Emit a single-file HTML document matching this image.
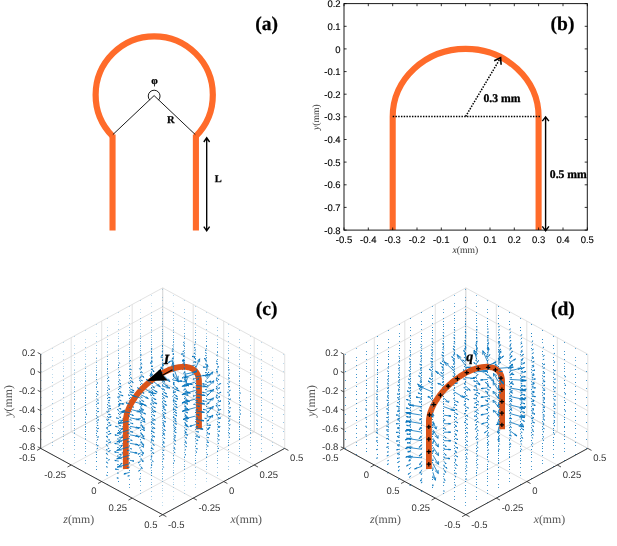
<!DOCTYPE html>
<html><head><meta charset="utf-8"><title>figure</title>
<style>html,body{margin:0;padding:0;background:#fff}body{width:617px;height:546px;overflow:hidden;font-family:"Liberation Sans",sans-serif}</style></head><body>
<svg width="617" height="546" viewBox="0 0 617 546" style="display:block">
<rect width="617" height="546" fill="#fff"/>
<g style="will-change:transform" text-rendering="geometricPrecision">
<g id="pa">
<path d="M112.55 136.1A58.6 58.6 0 1 1 195.9 136.1" fill="none" stroke="#FF6B2A" stroke-width="6.2"/>
<path d="M112.55 230.5L112.55 134.6M195.9 134.6L195.9 230.5" fill="none" stroke="#FF6B2A" stroke-width="6.1"/>
<path d="M112.85 134.6L154.1 95.6L195.3 134.6" fill="none" stroke="#000" stroke-width="0.9"/>
<path d="M149.8 100.1A5.9 5.9 0 1 1 158.5 100.1" fill="none" stroke="#000" stroke-width="0.9"/>
<path d="M206.7 138L206.7 230.6M203.79999999999998 142L206.7 137.8L209.6 142M203.79999999999998 226.6L206.7 230.8L209.6 226.6" fill="none" stroke="#000" stroke-width="1.35"/>
</g>
<g id="pb">
<clipPath id="cb"><rect x="344.0" y="3.6" width="243.29999999999995" height="226.5"/></clipPath>
<path clip-path="url(#cb)" d="M392.7 235.1L392.7 116.8A72.950 67.95 0 0 1 538.6 116.8L538.6 235.1" fill="none" stroke="#FF6B2A" stroke-width="6.1"/>
<rect x="344.0" y="3.6" width="243.3" height="226.5" fill="none" stroke="#1a1a1a" stroke-width="1"/>
<path d="M344 230.1v-2.6M344 3.6v2.6M344.0 3.6h2.6M587.3 3.6h-2.6M368.3 230.1v-2.6M368.3 3.6v2.6M344.0 26.3h2.6M587.3 26.3h-2.6M392.7 230.1v-2.6M392.7 3.6v2.6M344.0 48.9h2.6M587.3 48.9h-2.6M417 230.1v-2.6M417 3.6v2.6M344.0 71.6h2.6M587.3 71.6h-2.6M441.3 230.1v-2.6M441.3 3.6v2.6M344.0 94.2h2.6M587.3 94.2h-2.6M465.6 230.1v-2.6M465.6 3.6v2.6M344.0 116.8h2.6M587.3 116.8h-2.6M490 230.1v-2.6M490 3.6v2.6M344.0 139.5h2.6M587.3 139.5h-2.6M514.3 230.1v-2.6M514.3 3.6v2.6M344.0 162.1h2.6M587.3 162.1h-2.6M538.6 230.1v-2.6M538.6 3.6v2.6M344.0 184.8h2.6M587.3 184.8h-2.6M563 230.1v-2.6M563 3.6v2.6M344.0 207.4h2.6M587.3 207.4h-2.6M587.3 230.1v-2.6M587.3 3.6v2.6M344.0 230.1h2.6M587.3 230.1h-2.6" fill="none" stroke="#000" stroke-width="0.8"/>
<g font-family="Liberation Sans, sans-serif" font-size="9.6" fill="#000" stroke="#000" stroke-width="0.12">
<text transform="translate(344,242.8) scale(0.99,1)" text-anchor="middle">-0.5</text>
<text transform="translate(368.3,242.8) scale(0.99,1)" text-anchor="middle">-0.4</text>
<text transform="translate(392.7,242.8) scale(0.99,1)" text-anchor="middle">-0.3</text>
<text transform="translate(417,242.8) scale(0.99,1)" text-anchor="middle">-0.2</text>
<text transform="translate(441.3,242.8) scale(0.99,1)" text-anchor="middle">-0.1</text>
<text transform="translate(465.6,242.8) scale(0.99,1)" text-anchor="middle">0</text>
<text transform="translate(490,242.8) scale(0.99,1)" text-anchor="middle">0.1</text>
<text transform="translate(514.3,242.8) scale(0.99,1)" text-anchor="middle">0.2</text>
<text transform="translate(538.6,242.8) scale(0.99,1)" text-anchor="middle">0.3</text>
<text transform="translate(563,242.8) scale(0.99,1)" text-anchor="middle">0.4</text>
<text transform="translate(587.3,242.8) scale(0.99,1)" text-anchor="middle">0.5</text>
<text transform="translate(340.6,7.2) scale(0.99,1)" text-anchor="end">0.2</text>
<text transform="translate(340.6,29.9) scale(0.99,1)" text-anchor="end">0.1</text>
<text transform="translate(340.6,52.5) scale(0.99,1)" text-anchor="end">0</text>
<text transform="translate(340.6,75.2) scale(0.99,1)" text-anchor="end">-0.1</text>
<text transform="translate(340.6,97.8) scale(0.99,1)" text-anchor="end">-0.2</text>
<text transform="translate(340.6,120.4) scale(0.99,1)" text-anchor="end">-0.3</text>
<text transform="translate(340.6,143.1) scale(0.99,1)" text-anchor="end">-0.4</text>
<text transform="translate(340.6,165.7) scale(0.99,1)" text-anchor="end">-0.5</text>
<text transform="translate(340.6,188.4) scale(0.99,1)" text-anchor="end">-0.6</text>
<text transform="translate(340.6,211) scale(0.99,1)" text-anchor="end">-0.7</text>
<text transform="translate(340.6,233.7) scale(0.99,1)" text-anchor="end">-0.8</text>
</g>
<text x="465.3" y="253.4" text-anchor="middle" font-family="Liberation Serif, serif" font-size="9.6" fill="#333"><tspan font-style="italic">x</tspan>(mm)</text>
<text transform="translate(319.3,117.2) rotate(-90)" text-anchor="middle" font-family="Liberation Serif, serif" font-size="9.6" fill="#333"><tspan font-style="italic">y</tspan>(mm)</text>
<path d="M392.7 116.5L540.6 116.5" stroke="#000" stroke-width="1.5" stroke-dasharray="1.45 1.3" fill="none"/>
<path d="M465.6 116.5L500.6 57.8" stroke="#000" stroke-width="1.5" stroke-dasharray="1.5 1.3" fill="none"/>
<path d="M501.1 64.8L500.6 57.8L494.2 60.7" stroke="#000" stroke-width="1.6" fill="none"/>
<path d="M545.6 117L545.6 230.6M542.3000000000001 121.2L545.6 116.8L548.9 121.2M542.3000000000001 226.4L545.6 230.8L548.9 226.4" fill="none" stroke="#000" stroke-width="1.4"/>
</g>
<g id="pc">
<path d="M40.7 448.4L40.7 354.2M162.7 382.1L162.7 287.9M40.7 448.4L162.7 514.7M40.7 448.4L162.7 382.1M71.2 431.8L71.2 337.6M193.2 398.7L193.2 304.5M71.2 431.8L193.2 498.1M71.2 465L193.2 398.7M101.7 415.2L101.7 321.1M223.7 415.2L223.7 321.1M101.7 415.2L223.7 481.5M101.7 481.5L223.7 415.2M132.2 398.7L132.2 304.5M254.2 431.8L254.2 337.6M132.2 398.7L254.2 465M132.2 498.1L254.2 431.8M162.7 382.1L162.7 287.9M284.7 448.4L284.7 354.2M162.7 382.1L284.7 448.4M162.7 514.7L284.7 448.4M40.7 354.2L162.7 287.9M162.7 287.9L284.7 354.2M40.7 373L162.7 306.7M162.7 306.7L284.7 373M40.7 391.9L162.7 325.6M162.7 325.6L284.7 391.9M40.7 410.7L162.7 344.4M162.7 344.4L284.7 410.7M40.7 429.6L162.7 363.3M162.7 363.3L284.7 429.6M40.7 448.4L162.7 382.1M162.7 382.1L284.7 448.4" fill="none" stroke="#D6D6D6" stroke-width="0.7"/>
<path d="M41 448.5h1M52 454.5h1M41 439.5h1M41 431.5h1M41 405.5h1M41 397.5h1M41 388.5h1M52 394.5h1M63 400.5h1M41 380.5h1M52 386.5h1M63 392.5h1M74 398.5h1M85 404.5h1M41 371.5h1M52 377.5h1M63 383.5h1M74 389.5h1M85 395.5h1M41 363.5h1M52 369.5h1M63 375.5h1M74 381.5h1M85 387.5h1M41 354.5h1M52 360.5h1M63 366.5h1M74 372.5h1M85 378.5h1M96 384.5h1M52 374.5h1M52 365.5h1M63 371.5h1M74 377.5h1M85 383.5h1M96 389.5h1M52 357.5h1M63 363.5h1M74 369.5h1M85 375.5h1M96 381.5h1M52 348.5h1M63 354.5h1M74 360.5h1M85 366.5h1M96 372.5h1M63 359.5h1M74 365.5h1M107 383.5h1M63 351.5h1M74 357.5h1M85 363.5h1M96 369.5h1M107 375.5h1M63 342.5h1M74 348.5h1M85 354.5h1M96 360.5h1M107 366.5h1M74 345.5h1M85 351.5h1M96 357.5h1M107 363.5h1M118 369.5h1M74 336.5h1M85 342.5h1M96 348.5h1M107 354.5h1M118 360.5h1M85 339.5h1M85 330.5h1M96 336.5h1M107 342.5h1M118 348.5h1M96 333.5h1M96 324.5h1M107 330.5h1M118 336.5h1M107 327.5h1M107 318.5h1M118 324.5h1M118 321.5h1M118 312.5h1M129 318.5h1M129 400.5h1M129 315.5h1M129 306.5h1M140 312.5h1M140 394.5h1M140 386.5h1M140 309.5h1M140 300.5h1M151 306.5h1M151 388.5h1M162 394.5h1M151 380.5h1M151 312.5h1M151 303.5h1M162 309.5h1M151 295.5h1M162 300.5h1M173 306.5h1M162 382.5h1M173 388.5h1M162 374.5h1M162 365.5h1M162 314.5h1M162 306.5h1M162 297.5h1M173 303.5h1M162 289.5h1M173 295.5h1M184 300.5h1M195 306.5h1M206 312.5h1" fill="none" stroke="#0072BD" stroke-width="1.0" stroke-opacity="0.25"/>
<path d="M63 460.5h1M74 466.5h1M85 472.5h1M96 478.5h1M52 445.5h1M63 451.5h1M74 457.5h1M85 463.5h1M52 437.5h1M63 443.5h1M74 449.5h1M41 422.5h1M52 428.5h1M63 434.5h1M74 440.5h1M41 414.5h1M52 420.5h1M63 426.5h1M74 432.5h1M52 411.5h1M63 417.5h1M74 423.5h1M52 403.5h1M63 409.5h1M74 415.5h1M85 421.5h1M74 406.5h1M85 412.5h1M96 401.5h1M96 393.5h1M52 442.5h1M63 448.5h1M74 454.5h1M52 433.5h1M63 439.5h1M52 425.5h1M63 431.5h1M52 416.5h1M63 422.5h1M52 408.5h1M63 414.5h1M52 399.5h1M63 405.5h1M52 391.5h1M63 397.5h1M52 382.5h1M63 388.5h1M74 394.5h1M63 380.5h1M74 386.5h1M85 392.5h1M96 398.5h1M107 387.5h1M107 378.5h1M63 436.5h1M74 442.5h1M63 427.5h1M63 419.5h1M63 410.5h1M63 402.5h1M63 393.5h1M63 385.5h1M63 376.5h1M74 382.5h1M63 368.5h1M74 374.5h1M85 371.5h1M96 377.5h1M118 372.5h1M74 430.5h1M85 436.5h1M74 421.5h1M74 413.5h1M74 379.5h1M74 370.5h1M74 362.5h1M74 353.5h1M85 359.5h1M96 365.5h1M118 377.5h1M129 366.5h1M85 424.5h1M85 416.5h1M85 407.5h1M85 364.5h1M85 356.5h1M85 347.5h1M96 353.5h1M96 345.5h1M107 351.5h1M118 357.5h1M129 363.5h1M129 354.5h1M96 418.5h1M107 424.5h1M96 410.5h1M96 401.5h1M96 350.5h1M96 341.5h1M107 347.5h1M107 339.5h1M118 345.5h1M129 342.5h1M140 348.5h1M107 412.5h1M118 418.5h1M107 404.5h1M107 395.5h1M107 387.5h1M107 352.5h1M107 344.5h1M107 335.5h1M118 341.5h1M118 333.5h1M129 339.5h1M129 330.5h1M140 336.5h1M151 342.5h1M118 406.5h1M129 412.5h1M140 418.5h1M118 398.5h1M129 404.5h1M118 389.5h1M118 381.5h1M118 372.5h1M118 364.5h1M118 355.5h1M118 346.5h1M118 338.5h1M118 329.5h1M129 335.5h1M129 327.5h1M140 333.5h1M140 324.5h1M151 330.5h1M162 336.5h1M140 406.5h1M151 412.5h1M129 392.5h1M140 398.5h1M129 383.5h1M140 389.5h1M129 375.5h1M129 366.5h1M129 358.5h1M129 349.5h1M129 341.5h1M129 332.5h1M129 323.5h1M140 329.5h1M140 321.5h1M151 327.5h1M151 318.5h1M162 324.5h1M173 330.5h1M151 400.5h1M162 406.5h1M151 392.5h1M140 377.5h1M151 383.5h1M140 369.5h1M151 375.5h1M140 360.5h1M151 366.5h1M140 352.5h1M140 343.5h1M140 335.5h1M151 341.5h1M140 326.5h1M151 332.5h1M140 318.5h1M151 323.5h1M151 315.5h1M162 321.5h1M173 327.5h1M162 312.5h1M173 318.5h1M184 324.5h1M195 330.5h1M173 400.5h1M162 386.5h1M173 392.5h1M151 371.5h1M162 377.5h1M151 363.5h1M162 369.5h1M151 354.5h1M162 360.5h1M151 346.5h1M162 352.5h1M151 337.5h1M162 343.5h1M151 329.5h1M162 335.5h1M151 320.5h1M162 326.5h1M162 318.5h1M173 323.5h1M173 315.5h1M184 321.5h1M195 327.5h1M206 333.5h1M184 312.5h1M195 318.5h1M206 324.5h1M184 394.5h1M195 400.5h1M173 380.5h1M184 386.5h1M173 371.5h1M184 377.5h1M162 357.5h1M173 363.5h1M162 348.5h1M173 354.5h1M162 340.5h1M173 346.5h1M162 331.5h1M173 337.5h1M162 323.5h1M173 329.5h1M184 335.5h1M173 320.5h1M184 326.5h1M173 312.5h1M184 318.5h1M195 323.5h1M206 329.5h1M217 335.5h1M184 309.5h1M195 315.5h1M206 321.5h1M217 327.5h1M217 318.5h1" fill="none" stroke="#0072BD" stroke-width="1.0" stroke-opacity="0.4"/>
<path d="M85 455.5h1M85 446.5h1M85 438.5h1M85 429.5h1M96 418.5h1M96 410.5h1M85 460.5h1M96 466.5h1M74 445.5h1M85 451.5h1M74 437.5h1M74 428.5h1M74 420.5h1M74 411.5h1M74 403.5h1M85 400.5h1M96 406.5h1M107 395.5h1M85 448.5h1M74 433.5h1M85 439.5h1M74 425.5h1M74 416.5h1M74 408.5h1M74 399.5h1M74 391.5h1M85 388.5h1M85 380.5h1M96 386.5h1M107 392.5h1M118 381.5h1M96 442.5h1M85 427.5h1M85 419.5h1M74 404.5h1M74 396.5h1M74 387.5h1M85 385.5h1M85 376.5h1M85 368.5h1M107 371.5h1M96 430.5h1M107 436.5h1M96 421.5h1M96 413.5h1M85 398.5h1M85 390.5h1M85 381.5h1M85 373.5h1M96 370.5h1M96 362.5h1M107 359.5h1M140 360.5h1M118 430.5h1M107 416.5h1M107 407.5h1M96 393.5h1M96 384.5h1M96 375.5h1M96 367.5h1M96 358.5h1M107 356.5h1M118 353.5h1M129 351.5h1M140 357.5h1M151 354.5h1M129 424.5h1M118 410.5h1M129 416.5h1M118 401.5h1M118 393.5h1M107 378.5h1M118 384.5h1M107 369.5h1M107 361.5h1M118 358.5h1M118 350.5h1M129 347.5h1M140 345.5h1M162 348.5h1M151 424.5h1M140 410.5h1M129 395.5h1M140 401.5h1M129 387.5h1M129 378.5h1M129 369.5h1M129 361.5h1M129 352.5h1M129 344.5h1M140 341.5h1M151 339.5h1M173 342.5h1M162 418.5h1M151 404.5h1M151 395.5h1M140 381.5h1M151 387.5h1M140 372.5h1M140 364.5h1M140 355.5h1M140 346.5h1M140 338.5h1M151 335.5h1M162 333.5h1M184 336.5h1M173 412.5h1M162 398.5h1M162 389.5h1M162 381.5h1M151 358.5h1M151 349.5h1M162 338.5h1M162 329.5h1M173 335.5h1M184 333.5h1M195 339.5h1M184 406.5h1M173 383.5h1M173 375.5h1M173 366.5h1M173 358.5h1M173 349.5h1M173 341.5h1M173 332.5h1M184 329.5h1M195 335.5h1M206 406.5h1M217 412.5h1M195 392.5h1M195 383.5h1M184 369.5h1M184 360.5h1M184 352.5h1M184 343.5h1M195 349.5h1M195 341.5h1M195 332.5h1M206 338.5h1M217 344.5h1" fill="none" stroke="#0072BD" stroke-width="1.0" stroke-opacity="0.6"/>
<path d="M96 469.5h1M96 461.5h1M96 444.5h1M96 435.5h1M96 427.5h1M107 472.5h1M96 457.5h1M85 443.5h1M85 434.5h1M85 426.5h1M85 417.5h1M85 409.5h1M96 415.5h1M107 404.5h1M96 454.5h1M85 431.5h1M85 422.5h1M85 405.5h1M85 397.5h1M118 389.5h1M96 433.5h1M85 410.5h1M85 402.5h1M85 393.5h1M96 374.5h1M129 375.5h1M107 427.5h1M96 404.5h1M96 396.5h1M96 387.5h1M96 379.5h1M107 368.5h1M118 365.5h1M129 436.5h1M118 421.5h1M118 413.5h1M107 398.5h1M107 390.5h1M107 381.5h1M107 373.5h1M107 364.5h1M140 430.5h1M129 407.5h1M129 398.5h1M118 375.5h1M118 367.5h1M129 356.5h1M151 351.5h1M151 416.5h1M140 393.5h1M140 384.5h1M140 350.5h1M162 345.5h1M162 410.5h1M151 378.5h1M151 369.5h1M151 361.5h1M151 352.5h1M151 344.5h1M162 341.5h1M173 339.5h1M173 404.5h1M162 372.5h1M162 364.5h1M162 355.5h1M162 346.5h1M195 412.5h1M184 398.5h1M184 346.5h1M184 338.5h1M206 341.5h1M206 398.5h1M195 375.5h1M195 366.5h1M195 358.5h1M206 346.5h1M217 352.5h1" fill="none" stroke="#0072BD" stroke-width="1.0" stroke-opacity="0.8"/>
<path d="M96.8 452.7L95.9 451.8M96.1 452.2L95.9 451.8L96.4 452.1M107.8 463.7L106.6 461.9M106.6 462.6L106.6 461.9L107.4 462.4M96.8 449.3L97.5 448M97.1 448.4L97.5 448L97.6 448.5M107.8 455.2L106.4 453.1M106.4 453.9L106.4 453.1L107.3 453.7M96.8 440.7L97.6 439.5M97.1 439.8L97.6 439.5L97.6 439.9M107.8 446.7L106.4 444.5M106.4 445.3L106.4 444.5L107.3 445.1M96.8 432.2L97.7 431M97.1 431.3L97.7 431L97.7 431.4M107.8 438.2L106.5 436M106.5 436.8L106.5 436L107.4 436.7M96.8 423.7L97.7 422.6M97.1 422.9L97.7 422.6L97.7 423M107.8 429.7L106.6 427.7M106.6 428.4L106.6 427.7L107.4 428.3M107.8 421.1L106.8 419.5M106.7 420.1L106.8 419.5L107.5 420M107.8 412.6L106.9 411.5M106.9 412L106.9 411.5L107.4 411.8M107.8 460.3L109.4 459.7M108.8 459.8L109.4 459.7L109 460M118.8 466.3L122 463.1M120.3 464L122 463.1L121.6 464.4M96.8 445.8L98.2 445.5M97.7 445.5L98.2 445.5L97.8 445.7M107.8 451.8L110.3 450.7M109.3 450.9L110.3 450.7L109.7 451.2M118.8 457.8L125.1 451M121.6 452.9L125.1 451L124.4 453.6M96.8 437.3L98.5 436.9M97.8 436.9L98.5 436.9L98 437.1M107.8 443.3L110.8 441.9M109.5 442.2L110.8 441.9L110.1 442.6M118.8 449.3L125.5 442.2M121.8 444.1L125.5 442.2L124.7 444.9M96.8 428.8L98.6 428.4M97.9 428.4L98.6 428.4L98.1 428.6M107.8 434.8L111 433.4M109.7 433.7L111 433.4L110.3 434.1M118.8 440.7L125.6 433.7M121.9 435.6L125.6 433.7L124.8 436.4M85.8 414.3L87 414.3M86.6 414.2L87 414.3L86.7 414.3M96.8 420.3L98.7 419.9M98 419.9L98.7 419.9L98.2 420.2M107.8 426.3L111.2 425M109.8 425.2L111.2 425L110.3 425.6M118.8 432.2L125.8 425.3M122.1 427.1L125.8 425.3L124.9 428M96.8 411.8L98.7 411.5M98 411.5L98.7 411.5L98.2 411.7M107.8 417.7L111.2 416.7M109.8 416.8L111.2 416.7L110.4 417.2M118.8 423.7L126.1 417.1M122.3 418.8L126.1 417.1L125 419.7M96.8 403.2L98.6 403.2M97.9 403.1L98.6 403.2L98.1 403.3M107.8 409.2L110.9 408.5M109.6 408.6L110.9 408.5L110.2 408.9M118.8 415.2L124.9 410.1M121.6 411.4L124.9 410.1L124.2 412.1M96.8 394.7L98.2 394.8M97.6 394.7L98.2 394.8L97.8 394.8M107.8 400.7L109.9 400.3M108.9 400.3L109.9 400.3L109.5 400.6M118.8 406.7L119.6 403.8M118.4 404.7L119.6 403.8L120.3 404.8M118.8 398.1L117.7 396.9M117.6 397.4L117.7 396.9L118.5 397.2M107.8 448.4L109.1 448.4M108.7 448.4L109.1 448.4L108.6 448.5M118.8 454.4L121 454.4M120.2 454.3L121 454.4L120.2 454.5M129.8 460.3L133.9 461.1M132.7 460.6L133.9 461.1L132.4 461.1M107.8 439.9L109.5 439.9M109 439.8L109.5 439.9L109 440M118.8 445.8L122.1 445.8M121 445.6L122.1 445.8L121.1 446M129.8 451.8L137.2 453.1M135 452.2L137.2 453.1L134.5 453.1M96.8 425.4L98.1 425.5M97.7 425.4L98.1 425.5L97.7 425.5M107.8 431.4L109.9 431.4M109.2 431.2L109.9 431.4L109.2 431.5M118.8 437.3L122.8 437.3M121.5 437.1L122.8 437.3L121.5 437.5M129.8 443.3L138.2 444.8M135.7 443.8L138.2 444.8L135.1 444.8M96.8 416.9L98.2 417M97.8 416.9L98.2 417L97.8 417M107.8 422.8L110.1 422.9M109.3 422.7L110.1 422.9L109.4 423M118.8 428.8L123.1 428.8M121.7 428.6L123.1 428.8L121.7 429.1M129.8 434.8L138.6 436.4M136 435.3L138.6 436.4L135.3 436.4M96.8 408.3L98.3 408.5M97.8 408.4L98.3 408.5L97.8 408.6M107.8 414.3L110.3 414.5M109.4 414.3L110.3 414.5L109.5 414.6M118.8 420.3L123.4 420.4M121.9 420.1L123.4 420.4L121.9 420.7M129.8 426.3L138.9 428M136.2 426.9L138.9 428L135.5 428M96.8 399.8L98.3 400.1M97.8 399.9L98.3 400.1L97.8 400.1M107.8 405.8L110.3 406.1M109.5 405.8L110.3 406.1L109.5 406.1M118.8 411.8L123.6 412.2M122 411.7L123.6 412.2L122 412.3M129.8 417.7L139.3 419.8M136.5 418.6L139.3 419.8L135.8 419.7M96.8 391.3L98.2 391.7M97.7 391.5L98.2 391.7L97.7 391.6M107.8 397.3L110.2 397.7M109.4 397.4L110.2 397.7L109.4 397.7M118.8 403.2L123.6 404M122 403.4L123.6 404L122 404M129.8 409.2L140.7 412M137.5 410.5L140.7 412L136.6 411.8M96.8 382.8L98 383.2M97.6 383L98 383.2L97.6 383.1M107.8 388.8L109.8 389.3M109.1 389L109.8 389.3L109.2 389.3M118.8 394.7L123.1 395.7M121.6 395.1L123.1 395.7L121.7 395.7M129.8 400.7L144.3 404.6M139.7 402.4L144.3 404.6L139.3 404.3M107.8 380.2L109.1 380.8M108.6 380.5L109.1 380.8L108.8 380.7M118.8 386.2L121.2 387M120.2 386.5L121.2 387L120.6 386.9M129.8 392.2L133.7 392.4M131.1 392L133.7 392.4L133.7 392.6M129.8 383.6L128.4 382.9M128.4 383.2L128.4 382.9L129.2 383.1M118.8 442.4L120 442.7M119.6 442.6L120 442.7L119.5 442.7M129.8 448.4L131.5 448.9M131 448.6L131.5 448.9L130.8 448.8M140.7 454.4L142.8 455.2M142.3 454.8L142.8 455.2L142 455M118.8 433.9L120.4 434.3M119.9 434.1L120.4 434.3L119.8 434.2M129.8 439.9L132.2 440.5M131.5 440.1L132.2 440.5L131.3 440.4M140.7 445.8L143.8 447M143 446.5L143.8 447L142.6 446.8M107.8 419.4L109 419.8M108.7 419.6L109 419.8L108.6 419.7M118.8 425.4L120.7 425.8M120.2 425.6L120.7 425.8L120 425.8M129.8 431.4L132.7 432.1M131.9 431.7L132.7 432.1L131.6 432M140.7 437.3L144.5 438.8M143.5 438.1L144.5 438.8L142.9 438.5M107.8 410.9L109.2 411.3M108.8 411.1L109.2 411.3L108.7 411.3M118.8 416.9L121 417.4M120.3 417.1L121 417.4L120.2 417.4M129.8 422.8L133.1 423.7M132.1 423.2L133.1 423.7L131.8 423.6M140.7 428.8L144.8 430.4M143.8 429.7L144.8 430.4L143.2 430.1M107.8 402.4L109.3 402.9M108.9 402.6L109.3 402.9L108.7 402.8M118.8 408.3L121.1 409M120.4 408.7L121.1 409L120.3 408.9M129.8 414.3L133.4 415.4M132.3 414.8L133.4 415.4L132 415.2M140.7 420.3L145.2 422.1M144.1 421.2L145.2 422.1L143.4 421.8M107.8 393.9L109.3 394.4M108.9 394.2L109.3 394.4L108.7 394.3M118.8 399.8L121.2 400.7M120.5 400.2L121.2 400.7L120.3 400.5M129.8 405.8L133.6 407.1M132.5 406.4L133.6 407.1L132.1 406.9M140.7 411.8L145.6 413.9M144.4 412.9L145.6 413.9L143.6 413.5M107.8 385.3L109.2 386M108.8 385.7L109.2 386L108.7 385.9M118.8 391.3L121.2 392.3M120.5 391.8L121.2 392.3L120.3 392.1M129.8 397.3L133.9 398.9M132.7 398.1L133.9 398.9L132.3 398.6M140.7 403.2L146.4 405.8M145 404.6L146.4 405.8L144.1 405.3M107.8 376.8L109 377.5M108.7 377.2L109 377.5L108.6 377.4M118.8 382.8L121 384M120.4 383.4L121 384L120.2 383.7M129.8 388.8L134.1 390.8M132.8 389.9L134.1 390.8L132.4 390.4M140.7 394.7L148.3 398.5M146.4 396.8L148.3 398.5L145.3 397.7M118.8 374.3L120.4 375.4M119.9 374.9L120.4 375.4L119.8 375.2M129.8 380.2L133.2 382.5M132.1 381.4L133.2 382.5L132 382M140.7 386.2L152.9 393.6M149.5 390.3L152.9 393.6L148.3 392.1M129.8 371.7L130.7 372.9M130.2 372.4L130.7 372.9L130.6 372.7M140.7 377.7L139.2 378.2M138.9 378.2L139.2 378.2L140.6 377.9M140.7 369.2L139.5 368.8M139.7 369L139.5 368.8L140.1 368.8M140.7 442.4L142.1 443.1M141.8 442.8L142.1 443.1L141.5 442.9M151.7 448.4L153.3 449.2M152.9 448.8L153.3 449.2L152.6 449M129.8 427.9L131.1 428.5M130.7 428.3L131.1 428.5L130.5 428.4M140.7 433.9L142.5 434.7M142.1 434.4L142.5 434.7L141.8 434.6M151.7 439.9L153.8 440.9M153.3 440.5L153.8 440.9L152.9 440.7M129.8 419.4L131.3 420.2M130.9 419.8L131.3 420.2L130.7 420M140.7 425.4L142.9 426.4M142.4 425.9L142.9 426.4L142 426.2M151.7 431.4L154.3 432.6M153.7 432.1L154.3 432.6L153.2 432.4M118.8 404.9L120 405.6M119.7 405.3L120 405.6L119.5 405.4M129.8 410.9L131.5 411.8M131.1 411.4L131.5 411.8L130.8 411.6M140.7 416.9L143.2 418M142.6 417.5L143.2 418L142.2 417.8M151.7 422.8L154.6 424.3M154 423.7L154.6 424.3L153.4 424M118.8 396.4L120.1 397.1M119.7 396.8L120.1 397.1L119.5 397M129.8 402.4L131.7 403.4M131.2 402.9L131.7 403.4L130.9 403.2M140.7 408.3L143.5 409.7M142.8 409.1L143.5 409.7L142.3 409.4M151.7 414.3L155 416M154.2 415.3L155 416L153.6 415.6M118.8 387.9L120.1 388.7M119.8 388.4L120.1 388.7L119.6 388.5M129.8 393.9L131.8 395.1M131.3 394.5L131.8 395.1L131 394.8M140.7 399.8L143.7 401.4M143 400.7L143.7 401.4L142.5 401.1M151.7 405.8L155.3 407.7M154.5 406.9L155.3 407.7L153.8 407.3M118.8 379.4L120.1 380.3M119.7 379.9L120.1 380.3L119.5 380.1M129.8 385.3L131.9 386.7M131.4 386.1L131.9 386.7L131 386.4M140.7 391.3L144 393.3M143.2 392.4L144 393.3L142.6 392.8M151.7 397.3L156 399.7M155 398.6L156 399.7L154.1 399.1M118.8 370.9L119.9 371.8M119.6 371.4L119.9 371.8L119.4 371.6M129.8 376.8L131.7 378.4M131.3 377.7L131.7 378.4L130.9 378M140.7 382.8L144.3 385.4M143.4 384.3L144.3 385.4L142.8 384.7M151.7 388.8L157.2 392.1M155.9 390.7L157.2 392.1L154.8 391.3M118.8 362.3L119.6 363.3M119.4 362.9L119.6 363.3L119.2 363M129.8 368.3L131.2 369.9M130.9 369.2L131.2 369.9L130.6 369.5M140.7 374.3L143.8 377.4M143.1 376.1L143.8 377.4L142.5 376.6M151.7 380.2L160.3 386.9M158.3 384.2L160.3 386.9L156.6 385.3M129.8 359.8L130.4 361M130.3 360.5L130.4 361L130.1 360.7M140.7 365.7L141.7 367.9M141.4 367L141.7 367.9L141.3 367.4M151.7 371.7L150.7 376.6M149.7 375.2L150.7 376.6L152.4 374.8M151.7 363.2L150 362.9M150.3 363.1L150 362.9L150.8 362.9M151.7 436.5L152.8 437.2M152.6 436.9L152.8 437.2L152.3 437M162.7 442.4L164.1 443.3M163.8 442.9L164.1 443.3L163.5 443.1M140.7 422L141.7 422.8M141.5 422.4L141.7 422.8L141.3 422.6M151.7 427.9L153.1 429M152.9 428.5L153.1 429L152.5 428.7M162.7 433.9L164.6 435.1M164.2 434.6L164.6 435.1L163.8 434.8M140.7 413.5L141.9 414.4M141.7 414L141.9 414.4L141.4 414.2M151.7 419.4L153.4 420.7M153.1 420.2L153.4 420.7L152.6 420.4M162.7 425.4L165 426.8M164.5 426.2L165 426.8L164 426.5M140.7 404.9L142.1 406M141.8 405.6L142.1 406L141.4 405.8M151.7 410.9L153.7 412.4M153.3 411.8L153.7 412.4L152.8 412M162.7 416.9L165.4 418.5M164.8 417.8L165.4 418.5L164.2 418.1M129.8 390.4L130.7 391.4M130.5 391L130.7 391.4L130.3 391.1M140.7 396.4L142.2 397.7M141.9 397.2L142.2 397.7L141.5 397.4M151.7 402.4L153.9 404M153.5 403.4L153.9 404L152.9 403.6M162.7 408.3L165.7 410.2M165 409.4L165.7 410.2L164.3 409.8M129.8 381.9L130.7 382.9M130.6 382.5L130.7 382.9L130.3 382.7M140.7 387.9L142.3 389.4M142 388.8L142.3 389.4L141.6 389M151.7 393.9L154.1 395.8M153.7 395L154.1 395.8L153 395.3M162.7 399.8L166 401.9M165.3 401L166 401.9L164.5 401.4M129.8 373.4L130.7 374.5M130.6 374.1L130.7 374.5L130.2 374.2M140.7 379.4L142.3 381M142.1 380.4L142.3 381L141.6 380.6M151.7 385.3L154.4 387.7M153.9 386.7L154.4 387.7L153.1 387.1M162.7 391.3L166.6 393.9M165.8 392.8L166.6 393.9L164.8 393.3M129.8 364.9L130.6 366M130.5 365.6L130.6 366L130.2 365.7M140.7 370.9L142.2 372.7M142 372L142.2 372.7L141.5 372.2M151.7 376.8L154.5 379.8M154 378.6L154.5 379.8L153.2 379M162.7 382.8L167.7 386.4M166.6 384.9L167.7 386.4L165.4 385.5M140.7 362.3L141.7 364.2M141.6 363.5L141.7 364.2L141.2 363.7M151.7 368.3L153.9 371.9M153.6 370.6L153.9 371.9L152.7 370.9M162.7 374.3L169.9 381.8M168.5 378.8L169.9 381.8L166.5 379.7M140.7 353.8L141 355.2M141.1 354.7L141 355.2L140.7 354.8M151.7 359.8L151.9 362.4M152.3 361.5L151.9 362.4L151.4 361.6M162.7 365.7L159.2 372M160 370.7L159.2 372L160.7 369.2M162.7 357.2L160.8 357.1M161.2 357.3L160.8 357.1L161.6 357M162.7 430.5L163.5 431.5M163.4 431.1L163.5 431.5L163 431.2M173.7 436.5L175.2 437.6M174.9 437.1L175.2 437.6L174.5 437.3M162.7 422L163.7 423.4M163.6 422.8L163.7 423.4L163.1 423M173.7 427.9L175.9 429.6M175.5 428.9L175.9 429.6L174.8 429.2M151.7 407.5L152.4 408.6M152.4 408.2L152.4 408.6L151.9 408.3M162.7 413.5L163.9 415.1M163.8 414.5L163.9 415.1L163.2 414.7M173.7 419.4L176.3 421.5M175.8 420.6L176.3 421.5L175 420.9M151.7 399L152.5 400.3M152.5 399.8L152.5 400.3L152 399.9M162.7 404.9L164.1 406.8M164 406.1L164.1 406.8L163.3 406.3M173.7 410.9L176.6 413.2M176.1 412.3L176.6 413.2L175.2 412.6M151.7 390.4L152.6 391.9M152.5 391.4L152.6 391.9L152 391.5M162.7 396.4L164.3 398.5M164.2 397.7L164.3 398.5L163.4 397.9M173.7 402.4L176.9 404.9M176.3 403.9L176.9 404.9L175.4 404.2M140.7 376L141.3 377.1M141.3 376.7L141.3 377.1L140.9 376.7M151.7 381.9L152.6 383.6M152.6 383L152.6 383.6L152.1 383.1M162.7 387.9L164.5 390.3M164.3 389.4L164.5 390.3L163.5 389.6M173.7 393.9L177.3 396.6M176.6 395.5L177.3 396.6L175.5 395.9M140.7 367.4L141.2 368.6M141.3 368.2L141.2 368.6L140.9 368.3M151.7 373.4L152.6 375.3M152.6 374.6L152.6 375.3L152 374.7M162.7 379.4L164.6 382.2M164.4 381.2L164.6 382.2L163.5 381.4M173.7 385.3L177.8 388.8M177.1 387.4L177.8 388.8L175.8 387.9M140.7 358.9L141.1 360.1M141.2 359.7L141.1 360.1L140.8 359.7M151.7 364.9L152.4 366.9M152.5 366.2L152.4 366.9L151.9 366.3M162.7 370.9L164.3 374.4M164.3 373.1L164.3 374.4L163.3 373.3M173.7 376.8L178.8 382M178 380L178.8 382L176.3 380.6M151.7 356.4L152 358.2M152.2 357.6L152 358.2L151.6 357.6M162.7 362.3L163.2 366.1M163.6 364.8L163.2 366.1L162.5 364.9M173.7 368.3L178 380M178.2 375.8L178 380L175 376.4M151.7 347.8L151.5 349.1M151.8 348.7L151.5 349.1L151.4 348.7M162.7 353.8L161.8 356M162.4 355.4L161.8 356L161.9 355.2M173.7 359.8L168.4 362.4M169.9 362L168.4 362.4L170.4 361M173.7 351.3L171.9 351.1M172.4 351.3L171.9 351.1L172.7 351M173.7 424.5L173.7 425.7M173.9 425.3L173.7 425.7L173.5 425.3M184.7 430.5L186.1 432.8M186.1 431.9L186.1 432.8L185.2 432.1M173.7 416L173.5 417.9M173.9 417.3L173.5 417.9L173.2 417.3M184.7 422L187 426M187 424.6L187 426L185.4 424.8M162.7 401.5L162.6 402.7M162.8 402.4L162.6 402.7L162.4 402.3M173.7 407.5L173.5 409.7M174 409L173.5 409.7L173.1 409M184.7 413.5L187.3 418.1M187.4 416.4L187.3 418.1L185.5 416.7M162.7 393L162.6 394.4M162.9 393.9L162.6 394.4L162.4 393.9M173.7 399L173.5 401.4M174.1 400.6L173.5 401.4L173.1 400.6M184.7 404.9L187.5 409.8M187.5 408L187.5 409.8L185.6 408.3M162.7 384.5L162.6 386M162.9 385.5L162.6 386L162.4 385.5M173.7 390.4L173.6 393.1M174.2 392.2L173.6 393.1L173.2 392.2M184.7 396.4L187.8 401.4M187.7 399.6L187.8 401.4L185.7 400M162.7 376L162.7 377.6M163 377.1L162.7 377.6L162.4 377.1M173.7 381.9L173.8 384.9M174.3 383.9L173.8 384.9L173.2 383.9M184.7 387.9L188.1 393.3M188 391.3L188.1 393.3L185.9 391.7M162.7 367.4L162.6 369.3M162.9 368.7L162.6 369.3L162.4 368.7M173.7 373.4L173.7 376.7M174.2 375.6L173.7 376.7L173.2 375.6M184.7 379.4L188.5 386.1M188.4 383.6L188.5 386.1L186 384.1M162.7 358.9L162.5 360.7M162.8 360.1L162.5 360.7L162.3 360.1M173.7 364.9L173.1 368.5M173.8 367.3L173.1 368.5L172.8 367.3M184.7 370.9L186.2 381.9M187.4 378.1L186.2 381.9L184 378.3M162.7 350.4L162.3 351.9M162.6 351.4L162.3 351.9L162.2 351.4M173.7 356.4L172.3 359.2M173.1 358.4L172.3 359.2L172.4 358.2M184.7 362.3L176.1 369.4M179.5 367.7L176.1 369.4L178.3 366.3M173.7 347.8L172.3 349.1M172.9 348.8L172.3 349.1L172.7 348.6M184.7 353.8L181.4 354.1M182.3 354.2L181.4 354.1L182.7 353.8M184.7 345.3L183.4 345.1M183.7 345.2L183.4 345.1L183.9 345.1M184.7 418.6L183.5 419.5M184 419.2L183.5 419.5L183.7 419.1M195.6 424.5L189.8 426.3M192.1 426.1L189.8 426.3L191.4 425.4M184.7 410L182.5 411.5M183.5 411.1L182.5 411.5L182.9 410.9M195.6 416L183.1 419.4M187.9 419L183.1 419.4L186.6 417.6M173.7 395.6L172.8 396.5M173.2 396.3L172.8 396.5L172.9 396.2M184.7 401.5L182.1 403.2M183.3 402.8L182.1 403.2L182.6 402.5M195.6 407.5L182.5 411.1M187.6 410.7L182.5 411.1L186.1 409.2M173.7 387L172.7 388.1M173.2 387.8L172.7 388.1L172.8 387.7M184.7 393L182 394.8M183.2 394.4L182 394.8L182.5 394.1M195.6 399L182.5 402.7M187.6 402.3L182.5 402.7L186.1 400.7M173.7 378.5L172.7 379.7M173.2 379.4L172.7 379.7L172.8 379.3M184.7 384.5L182.1 386.5M183.3 386L182.1 386.5L182.5 385.7M195.6 390.4L182.7 394.3M187.7 393.8L182.7 394.3L186.2 392.3M173.7 370L172.8 371.3M173.3 370.9L172.8 371.3L172.8 370.8M184.7 376L182.2 378.1M183.4 377.5L182.2 378.1L182.6 377.3M195.6 381.9L183.1 386.1M188 385.5L183.1 386.1L186.4 384M173.7 361.5L172.8 362.8M173.3 362.4L172.8 362.8L172.9 362.3M184.7 367.4L182.3 369.7M183.4 369.1L182.3 369.7L182.7 368.8M195.6 373.4L184.1 377.9M188.6 377.1L184.1 377.9L187.2 375.7M173.7 353L172.8 354.2M173.3 353.8L172.8 354.2L172.9 353.7M184.7 358.9L182.4 360.9M183.4 360.4L182.4 360.9L182.9 360.1M195.6 364.9L187.6 366.9M190.4 366.7L187.6 366.9L190.2 365.7M173.7 344.4L172.9 345.4M173.3 345.1L172.9 345.4L173 345M184.7 350.4L182.9 351.6M183.6 351.3L182.9 351.6L183.4 351.1M195.6 356.4L192 356.5M193 356.7L192 356.5L193.3 356.2M184.7 341.9L183.5 342.4M183.9 342.3L183.5 342.4L183.9 342.2M195.6 347.8L194 347.7M194.4 347.8L194 347.7L194.6 347.6M206.6 418.6L204.8 418.3M205.3 418.5L204.8 418.3L205.4 418.3M195.6 404.1L193.7 404.4M194.4 404.4L193.7 404.4L194.3 404.2M206.6 410L203.2 409.4M204.2 409.8L203.2 409.4L204.4 409.4M184.7 389.6L183.6 390.1M184 390L183.6 390.1L183.8 389.9M195.6 395.6L193.3 396M194.2 396L193.3 396L194 395.7M206.6 401.5L202.6 400.8M203.8 401.3L202.6 400.8L204.1 400.8M184.7 381.1L183.5 381.7M184 381.5L183.5 381.7L183.8 381.4M195.6 387L193.2 387.5M194.1 387.5L193.2 387.5L193.9 387.2M206.6 393L202.5 392.3M203.7 392.8L202.5 392.3L204 392.3M184.7 372.5L183.5 373.2M184 373.1L183.5 373.2L183.7 372.9M195.6 378.5L193.2 379.1M194.1 379L193.2 379.1L193.9 378.8M206.6 384.5L202.6 383.8M203.8 384.3L202.6 383.8L204 383.8M184.7 364L183.5 364.7M184 364.6L183.5 364.7L183.8 364.4M195.6 370L193.3 370.6M194.2 370.6L193.3 370.6L194 370.3M206.6 376L202.8 375.4M203.9 375.8L202.8 375.4L204.2 375.4M184.7 355.5L183.6 356.2M184 356.1L183.6 356.2L183.9 355.9M195.6 361.5L193.6 362.2M194.3 362.1L193.6 362.2L194.2 361.8M206.6 367.4L203.3 367.1M204.3 367.4L203.3 367.1L204.5 367M195.6 353L193.9 353.5M194.6 353.4L193.9 353.5L194.5 353.2M206.6 358.9L204.2 358.6M204.9 358.9L204.2 358.6L205.1 358.6M195.6 344.4L194.4 344.8M194.8 344.8L194.4 344.8L194.8 344.6M206.6 350.4L205.1 350.2M205.5 350.3L205.1 350.2L205.7 350.1M217.6 404.1L216.4 403.7M216.7 403.9L216.4 403.7L216.9 403.8M206.6 389.6L205.3 389.6M205.7 389.7L205.3 389.6L205.7 389.5M217.6 395.6L216.1 395.1M216.5 395.4L216.1 395.1L216.7 395.2M206.6 381.1L205.2 381.1M205.7 381.2L205.2 381.1L205.7 381M217.6 387L216 386.6M216.4 386.8L216 386.6L216.6 386.6M206.6 372.5L205.2 372.6M205.7 372.7L205.2 372.6L205.7 372.5M217.6 378.5L216 378.1M216.4 378.3L216 378.1L216.6 378.1M206.6 364L205.3 364.1M205.7 364.2L205.3 364.1L205.7 364M217.6 370L216.1 369.6M216.5 369.8L216.1 369.6L216.7 369.6M206.6 355.5L205.4 355.6M205.8 355.7L205.4 355.6L205.8 355.5M217.6 361.5L216.3 361.1M216.6 361.3L216.3 361.1L216.8 361.2" fill="none" stroke="#0072BD" stroke-width="0.8" stroke-linejoin="round"/>
<path d="M199 429.2L199 427.3L199 426.2L199 425L199 423.8L199 422.6L199 421.4L199 420.3L199 419.1L199 417.9L199 416.7L199 415.6L199 414.4L199 413.2L199 412L199 410.8L199 409.7L199 408.5L199 407.3L199 406.1L199 405L199 403.8L199 402.6L199 401.4L199 400.2L199 399.1L199 397.9L199 396.7L199 395.5L199 394.4L199 393.2L199 392L199 390.8L199 389.7L199 388.5L199 387.3L199 386.1L199 384.9L199 383.8L199 382.6L199 381.4L198.9 379.3L198.5 377.2L198 375.4L197.2 373.7L196.2 372.1L195 370.7L193.6 369.6L192 368.6L190.2 367.8L188.3 367.3L186.2 366.9L183.9 366.7L181.5 366.8L179 367.1L176.4 367.6L173.7 368.3L170.9 369.2L168.1 370.3L165.3 371.6L162.4 373L159.5 374.7L156.7 376.5L153.9 378.5L151.1 380.6L148.4 382.8L145.8 385.2L143.3 387.6L140.9 390.1L138.6 392.7L136.5 395.4L134.6 398.1L132.8 400.8L131.2 403.5L129.8 406.2L128.6 408.9L127.6 411.5L126.8 414L126.3 416.5L125.9 418.9L125.8 421.2L125.8 422.4L125.8 423.5L125.8 424.7L125.8 425.9L125.8 427.1L125.8 428.3L125.8 429.4L125.8 430.6L125.8 431.8L125.8 433L125.8 434.1L125.8 435.3L125.8 436.5L125.8 437.7L125.8 438.9L125.8 440L125.8 441.2L125.8 442.4L125.8 443.6L125.8 444.7L125.8 445.9L125.8 447.1L125.8 448.3L125.8 449.4L125.8 450.6L125.8 451.8L125.8 453L125.8 454.2L125.8 455.3L125.8 456.5L125.8 457.7L125.8 458.9L125.8 460L125.8 461.2L125.8 462.4L125.8 463.6L125.8 464.8L125.8 465.9L125.8 467.1L125.8 469" fill="none" stroke="#D95319" stroke-width="5.8" stroke-linejoin="round"/>
<path d="M151 508.5h1M162 514.5h1M151 499.5h1M162 505.5h1M162 496.5h1M162 488.5h1M162 479.5h1M162 471.5h1M162 462.5h1M162 454.5h1M151 439.5h1M162 445.5h1M151 431.5h1M162 437.5h1M140 416.5h1M151 422.5h1M162 428.5h1M129 402.5h1M140 408.5h1M151 414.5h1M162 420.5h1M162 502.5h1M173 508.5h1M162 493.5h1M173 499.5h1M173 491.5h1M173 482.5h1M173 473.5h1M173 465.5h1M173 456.5h1M162 442.5h1M173 448.5h1M162 433.5h1M173 439.5h1M162 425.5h1M173 431.5h1M162 416.5h1M173 422.5h1M151 402.5h1M162 408.5h1M173 414.5h1M173 496.5h1M184 502.5h1M173 487.5h1M184 493.5h1M184 485.5h1M184 476.5h1M184 468.5h1M173 453.5h1M184 459.5h1M173 445.5h1M184 450.5h1M173 436.5h1M184 442.5h1M173 427.5h1M184 433.5h1M173 419.5h1M184 425.5h1M173 410.5h1M184 416.5h1M173 402.5h1M184 408.5h1M184 490.5h1M195 496.5h1M195 487.5h1M195 479.5h1M195 470.5h1M195 462.5h1M184 447.5h1M195 453.5h1M184 439.5h1M195 445.5h1M173 424.5h1M184 430.5h1M195 436.5h1M173 416.5h1M184 422.5h1M195 427.5h1M173 407.5h1M184 413.5h1M195 419.5h1M184 404.5h1M195 410.5h1M184 396.5h1M195 402.5h1M206 490.5h1M206 481.5h1M206 447.5h1M206 439.5h1M195 424.5h1M206 430.5h1M173 404.5h1M184 410.5h1M195 416.5h1M206 422.5h1M184 401.5h1M195 407.5h1M206 413.5h1M195 398.5h1M206 404.5h1M195 390.5h1M206 396.5h1M217 416.5h1M206 401.5h1M217 407.5h1M206 393.5h1M217 398.5h1M206 384.5h1M217 390.5h1M228 401.5h1M228 393.5h1M217 378.5h1M228 384.5h1M239 387.5h1M228 372.5h1M239 378.5h1M250 381.5h1M239 366.5h1M250 372.5h1M261 375.5h1M250 360.5h1M261 366.5h1M272 377.5h1M261 363.5h1M272 369.5h1M250 348.5h1M261 354.5h1M272 360.5h1M272 442.5h1M283 448.5h1M283 439.5h1M283 380.5h1M272 365.5h1M283 371.5h1M261 351.5h1M272 357.5h1M283 363.5h1M228 324.5h1M239 330.5h1M250 336.5h1M261 342.5h1M272 348.5h1M283 354.5h1" fill="none" stroke="#0072BD" stroke-width="1.0" stroke-opacity="0.25"/>
<path d="M129 496.5h1M140 502.5h1M140 493.5h1M140 485.5h1M151 491.5h1M140 476.5h1M151 482.5h1M140 468.5h1M151 473.5h1M140 459.5h1M151 465.5h1M140 450.5h1M151 456.5h1M140 442.5h1M151 448.5h1M140 433.5h1M129 419.5h1M140 425.5h1M107 398.5h1M118 404.5h1M129 410.5h1M107 390.5h1M118 396.5h1M151 496.5h1M151 487.5h1M162 485.5h1M162 476.5h1M162 468.5h1M162 459.5h1M151 445.5h1M162 450.5h1M151 436.5h1M151 427.5h1M151 419.5h1M140 404.5h1M151 410.5h1M118 384.5h1M129 390.5h1M140 396.5h1M162 490.5h1M162 481.5h1M173 479.5h1M173 470.5h1M173 462.5h1M162 447.5h1M162 439.5h1M162 430.5h1M162 422.5h1M162 413.5h1M151 398.5h1M162 404.5h1M129 378.5h1M140 384.5h1M151 390.5h1M162 396.5h1M173 484.5h1M173 475.5h1M184 481.5h1M173 467.5h1M184 473.5h1M184 464.5h1M184 456.5h1M173 441.5h1M173 433.5h1M162 418.5h1M162 410.5h1M173 398.5h1M162 384.5h1M173 390.5h1M184 478.5h1M195 484.5h1M195 475.5h1M195 467.5h1M206 473.5h1M195 458.5h1M206 464.5h1M195 450.5h1M206 456.5h1M195 441.5h1M195 433.5h1M184 418.5h1M162 398.5h1M173 395.5h1M184 393.5h1M173 378.5h1M184 384.5h1M206 478.5h1M217 484.5h1M206 469.5h1M217 475.5h1M217 467.5h1M217 458.5h1M217 450.5h1M217 441.5h1M206 427.5h1M217 433.5h1M206 418.5h1M217 424.5h1M195 404.5h1M206 410.5h1M195 395.5h1M195 387.5h1M184 372.5h1M195 378.5h1M217 472.5h1M228 478.5h1M228 469.5h1M228 461.5h1M228 452.5h1M228 444.5h1M228 435.5h1M228 427.5h1M228 418.5h1M217 404.5h1M228 410.5h1M217 395.5h1M206 381.5h1M217 387.5h1M195 366.5h1M206 372.5h1M228 466.5h1M239 472.5h1M239 463.5h1M239 455.5h1M239 446.5h1M239 421.5h1M239 412.5h1M239 404.5h1M228 389.5h1M239 395.5h1M217 375.5h1M228 381.5h1M206 360.5h1M217 366.5h1M239 460.5h1M250 466.5h1M250 457.5h1M250 449.5h1M250 440.5h1M250 415.5h1M250 406.5h1M250 398.5h1M239 383.5h1M250 389.5h1M228 369.5h1M239 375.5h1M217 354.5h1M228 360.5h1M250 454.5h1M261 460.5h1M261 451.5h1M261 443.5h1M261 434.5h1M261 426.5h1M261 417.5h1M261 409.5h1M261 400.5h1M250 386.5h1M261 392.5h1M250 377.5h1M261 383.5h1M228 357.5h1M239 363.5h1M250 369.5h1M206 336.5h1M217 342.5h1M228 348.5h1M239 354.5h1M250 442.5h1M261 448.5h1M272 454.5h1M261 439.5h1M272 445.5h1M261 431.5h1M272 437.5h1M272 428.5h1M272 420.5h1M272 411.5h1M272 403.5h1M261 388.5h1M272 394.5h1M261 380.5h1M272 386.5h1M239 359.5h1M250 365.5h1M261 371.5h1M217 339.5h1M228 345.5h1M239 351.5h1M250 357.5h1M217 330.5h1M228 336.5h1M239 342.5h1M228 418.5h1M239 424.5h1M250 430.5h1M261 436.5h1M250 421.5h1M261 427.5h1M272 433.5h1M261 419.5h1M272 425.5h1M283 431.5h1M261 410.5h1M272 416.5h1M283 422.5h1M261 402.5h1M272 408.5h1M283 414.5h1M261 393.5h1M272 399.5h1M283 405.5h1M261 385.5h1M272 391.5h1M283 397.5h1M261 376.5h1M272 382.5h1M283 388.5h1M239 356.5h1M250 362.5h1M261 368.5h1M272 374.5h1M228 341.5h1M239 347.5h1M250 353.5h1M261 359.5h1M228 333.5h1M239 339.5h1M250 345.5h1" fill="none" stroke="#0072BD" stroke-width="1.0" stroke-opacity="0.4"/>
<path d="M107 484.5h1M118 490.5h1M129 487.5h1M129 479.5h1M129 445.5h1M129 436.5h1M107 416.5h1M118 422.5h1M129 427.5h1M107 407.5h1M118 413.5h1M140 490.5h1M151 479.5h1M151 470.5h1M151 462.5h1M151 453.5h1M140 422.5h1M129 407.5h1M140 413.5h1M118 393.5h1M129 398.5h1M151 484.5h1M162 473.5h1M162 464.5h1M162 456.5h1M151 424.5h1M151 416.5h1M151 407.5h1M140 393.5h1M162 478.5h1M162 469.5h1M173 458.5h1M173 450.5h1M162 427.5h1M162 401.5h1M162 393.5h1M140 372.5h1M151 378.5h1M173 472.5h1M184 469.5h1M184 461.5h1M184 452.5h1M184 444.5h1M184 435.5h1M184 427.5h1M173 412.5h1M173 387.5h1M162 372.5h1M195 472.5h1M195 463.5h1M206 461.5h1M206 452.5h1M206 444.5h1M206 435.5h1M195 412.5h1M184 389.5h1M184 381.5h1M173 366.5h1M206 466.5h1M217 463.5h1M217 455.5h1M217 446.5h1M217 438.5h1M217 429.5h1M217 421.5h1M217 412.5h1M206 398.5h1M206 389.5h1M195 375.5h1M184 360.5h1M217 460.5h1M228 457.5h1M228 449.5h1M228 440.5h1M239 438.5h1M239 429.5h1M228 415.5h1M228 406.5h1M228 398.5h1M217 383.5h1M206 369.5h1M184 348.5h1M195 354.5h1M228 454.5h1M239 451.5h1M239 443.5h1M239 434.5h1M250 432.5h1M250 423.5h1M239 409.5h1M239 400.5h1M239 392.5h1M228 377.5h1M217 363.5h1M195 342.5h1M206 348.5h1M239 448.5h1M250 445.5h1M250 437.5h1M250 428.5h1M250 420.5h1M250 411.5h1M250 403.5h1M250 394.5h1M239 380.5h1M228 365.5h1M239 371.5h1M206 345.5h1M217 351.5h1M228 430.5h1M239 436.5h1M239 427.5h1M250 433.5h1M250 425.5h1M250 416.5h1M261 422.5h1M261 414.5h1M261 405.5h1M250 391.5h1M261 397.5h1M250 382.5h1M239 368.5h1M250 374.5h1M217 347.5h1M228 353.5h1M239 416.5h1M239 407.5h1M250 413.5h1M239 398.5h1M250 404.5h1M239 390.5h1M250 396.5h1M239 381.5h1M250 387.5h1M239 373.5h1M250 379.5h1M228 358.5h1M239 364.5h1M250 370.5h1M228 350.5h1" fill="none" stroke="#0072BD" stroke-width="1.0" stroke-opacity="0.6"/>
<path d="M118 481.5h1M129 470.5h1M129 462.5h1M129 453.5h1M107 424.5h1M118 430.5h1M129 484.5h1M140 481.5h1M140 473.5h1M140 439.5h1M140 430.5h1M118 401.5h1M151 475.5h1M151 433.5h1M129 387.5h1M151 472.5h1M162 461.5h1M162 452.5h1M162 444.5h1M162 435.5h1M151 412.5h1M151 387.5h1M173 463.5h1M173 455.5h1M173 421.5h1M151 366.5h1M184 466.5h1M184 457.5h1M195 455.5h1M195 446.5h1M195 438.5h1M195 429.5h1M195 421.5h1M184 398.5h1M162 360.5h1M195 460.5h1M206 457.5h1M206 449.5h1M206 406.5h1M195 383.5h1M173 354.5h1M217 451.5h1M228 432.5h1M228 423.5h1M217 392.5h1M228 445.5h1M239 426.5h1M239 417.5h1M228 386.5h1M217 371.5h1M206 357.5h1M228 442.5h1M239 439.5h1M239 431.5h1M239 422.5h1M239 397.5h1M239 388.5h1M217 359.5h1M217 424.5h1M239 419.5h1M250 408.5h1M250 399.5h1M239 385.5h1M239 376.5h1M228 362.5h1M228 410.5h1M228 401.5h1M228 375.5h1M228 367.5h1" fill="none" stroke="#0072BD" stroke-width="1.0" stroke-opacity="0.8"/>
<path d="M107.8 475.7L106.6 475.3M106.9 475.5L106.6 475.3L107.1 475.4M107.8 467.2L106.3 466.7M106.7 466.9L106.3 466.7L106.9 466.8M118.8 473.1L117.5 473.1M117.9 473.2L117.5 473.1L117.9 473M107.8 458.6L106.2 458.1M106.6 458.4L106.2 458.1L106.8 458.2M118.8 464.6L117.4 464.6M117.8 464.7L117.4 464.6L117.8 464.5M107.8 450.1L106.2 449.6M106.6 449.9L106.2 449.6L106.8 449.7M118.8 456.1L117.3 456M117.8 456.1L117.3 456L117.8 456M107.8 441.6L106.3 441.1M106.7 441.4L106.3 441.1L106.9 441.2M118.8 447.6L117.4 447.5M117.9 447.6L117.4 447.5L117.9 447.4M107.8 433.1L106.5 432.6M106.8 432.9L106.5 432.6L107 432.7M118.8 439L117.6 438.9M118 439L117.6 438.9L118 438.9M118.8 478.2L116.9 477.9M117.5 478.1L116.9 477.9L117.6 477.9M118.8 469.7L115.3 469.1M116.3 469.5L115.3 469.1L116.6 469.1M129.8 475.7L127.8 476M128.5 476L127.8 476L128.4 475.8M118.8 461.2L114.8 460.4M115.9 460.9L114.8 460.4L116.2 460.4M129.8 467.2L127.4 467.5M128.3 467.5L127.4 467.5L128.1 467.3M118.8 452.7L114.6 451.9M115.9 452.4L114.6 451.9L116.2 451.9M129.8 458.6L127.3 459M128.2 459L127.3 459L128 458.7M140.7 464.6L139.5 465M140 465L139.5 465L139.8 464.8M118.8 444.2L114.7 443.4M115.9 443.9L114.7 443.4L116.2 443.4M129.8 450.1L127.3 450.5M128.2 450.5L127.3 450.5L128 450.2M140.7 456.1L139.5 456.5M140 456.4L139.5 456.5L139.8 456.3M118.8 435.6L114.9 434.9M116.1 435.4L114.9 434.9L116.3 434.9M129.8 441.6L127.4 441.9M128.3 441.9L127.4 441.9L128.1 441.7M140.7 447.6L139.6 447.9M140.1 447.9L139.6 447.9L139.9 447.7M118.8 427.1L115.5 426.4M116.5 426.8L115.5 426.4L116.7 426.4M129.8 433.1L127.7 433.2M128.4 433.3L127.7 433.2L128.3 433M118.8 418.6L116.4 417.9M117.1 418.2L116.4 417.9L117.3 418M129.8 424.6L128.1 424.4M128.7 424.6L128.1 424.4L128.6 424.4M118.8 410.1L117.3 409.5M117.7 409.8L117.3 409.5L117.9 409.6M129.8 416L128.5 415.7M128.9 415.9L128.5 415.7L128.9 415.8M129.8 472.3L123.9 474M126.2 473.8L123.9 474L125.5 473.1M140.7 478.2L139.5 479.1M140.1 478.9L139.5 479.1L139.8 478.7M129.8 463.7L117.2 467.1M122 466.8L117.2 467.1L120.7 465.3M140.7 469.7L138.6 471.1M139.6 470.7L138.6 471.1L139 470.5M129.8 455.2L116.7 458.8M121.7 458.4L116.7 458.8L120.3 456.9M140.7 461.2L138.2 462.8M139.3 462.4L138.2 462.8L138.7 462.1M151.7 467.2L150.8 468M151.3 467.8L150.8 468L150.9 467.7M129.8 446.7L116.7 450.4M121.7 450L116.7 450.4L120.2 448.4M140.7 452.7L138.1 454.3M139.3 453.9L138.1 454.3L138.6 453.6M151.7 458.6L150.7 459.5M151.3 459.3L150.7 459.5L150.9 459.2M129.8 438.2L116.8 441.9M121.8 441.5L116.8 441.9L120.3 439.9M140.7 444.2L138.1 445.8M139.4 445.4L138.1 445.8L138.6 445.1M151.7 450.1L150.8 451M151.3 450.8L150.8 451L150.9 450.6M129.8 429.7L117.2 433.4M122.1 432.9L117.2 433.4L120.5 431.4M140.7 435.6L138.3 437.2M139.5 436.8L138.3 437.2L138.7 436.5M151.7 441.6L150.8 442.4M151.3 442.2L150.8 442.4L150.9 442.1M129.8 421.1L118.2 423.3M122.7 423.3L118.2 423.3L121.3 421.9M140.7 427.1L138.4 428.2M139.5 428L138.4 428.2L138.8 427.7M129.8 412.6L121.7 411.5M124.5 412.4L121.7 411.5L124.3 411.4M140.7 418.6L138.5 418.9M139.5 418.9L138.5 418.9L139 418.6M129.8 404.1L126.1 402.8M127.2 403.4L126.1 402.8L127.4 403M140.7 410.1L139 409.7M139.7 410L139 409.7L139.4 409.7M129.8 395.6L128.1 394.8M128.5 395.1L128.1 394.8L128.7 394.9M140.7 401.5L139.6 401.1M140 401.3L139.6 401.1L139.9 401.1M140.7 466.3L142.2 468.6M142.2 467.7L142.2 468.6L141.2 467.9M140.7 457.8L143.1 461.8M143.1 460.3L143.1 461.8L141.5 460.6M151.7 463.7L151.6 465.5M152 465L151.6 465.5L151.2 464.9M140.7 449.3L143.4 453.8M143.4 452.1L143.4 453.8L141.6 452.5M151.7 455.2L151.5 457.3M152 456.7L151.5 457.3L151.1 456.6M140.7 440.7L143.6 445.5M143.6 443.7L143.6 445.5L141.7 444.1M151.7 446.7L151.6 449M152.1 448.2L151.6 449L151.1 448.2M140.7 432.2L143.8 437.1M143.8 435.3L143.8 437.1L141.8 435.7M151.7 438.2L151.7 440.5M152.2 439.7L151.7 440.5L151.2 439.7M140.7 423.7L144.2 428.7M144.1 426.8L144.2 428.7L142 427.2M151.7 429.7L151.8 431.9M152.3 431.2L151.8 431.9L151.3 431.2M140.7 415.2L144.5 420.3M144.5 418.4L144.5 420.3L142.1 418.9M151.7 421.1L151.8 423.1M152.3 422.4L151.8 423.1L151.2 422.4M140.7 406.7L142.3 411.5M143.5 409.8L142.3 411.5L140.1 410M140.7 398.1L132.2 395.4M135.6 397L132.2 395.4L134.4 395.6M151.7 404.1L150.3 403.9M151.2 404.1L150.3 403.9L150.4 403.8M140.7 389.6L137.5 387.8M138.4 388.6L137.5 387.8L138.7 388.2M151.7 395.6L150.4 394.8M150.9 395.2L150.4 394.8L150.7 394.9M140.7 381.1L139.5 380.3M139.8 380.7L139.5 380.3L140 380.5M151.7 460.3L153.2 461.5M153 461L153.2 461.5L152.5 461.2M162.7 466.3L163.5 467.2M163.4 466.9L163.5 467.2L163 467M151.7 451.8L153.9 453.5M153.5 452.8L153.9 453.5L152.8 453.1M162.7 457.8L163.7 459.1M163.6 458.6L163.7 459.1L163.1 458.7M151.7 443.3L154.3 445.3M153.9 444.5L154.3 445.3L153.1 444.8M162.7 449.3L163.9 450.8M163.8 450.2L163.9 450.8L163.2 450.4M151.7 434.8L154.7 437M154.1 436.1L154.7 437L153.2 436.4M162.7 440.7L164.1 442.4M164 441.8L164.1 442.4L163.3 442M173.7 446.7L174.4 447.8M174.4 447.4L174.4 447.8L173.9 447.5M151.7 426.3L154.9 428.6M154.4 427.6L154.9 428.6L153.4 428M162.7 432.2L164.3 434M164.2 433.3L164.3 434L163.4 433.5M173.7 438.2L174.5 439.3M174.5 438.9L174.5 439.3L174 439M151.7 417.7L155.3 420.2M154.6 419.2L155.3 420.2L153.6 419.6M162.7 423.7L164.5 425.5M164.3 424.8L164.5 425.5L163.5 425M173.7 429.7L174.6 430.7M174.6 430.3L174.6 430.7L174 430.4M151.7 409.2L155.9 411.9M155.1 410.8L155.9 411.9L153.9 411.3M162.7 415.2L164.6 416.8M164.4 416.2L164.6 416.8L163.5 416.4M151.7 400.7L156.8 403.8M156 402.5L156.8 403.8L154.3 403.1M162.7 406.7L164.3 407.8M164.3 407.3L164.3 407.8L163.3 407.5M151.7 392.2L156.1 393.7M156.3 392.9L156.1 393.7L153 393.5M151.7 383.6L146.4 379.4M147.9 381.3L146.4 379.4L148.4 380.3M162.7 389.6L161.8 388.4M162.4 389L161.8 388.4L161.9 388.7M151.7 375.1L150 373.9M150.4 374.4L150 373.9L150.7 374.2M162.7 381.1L161.8 380.2M162.1 380.6L161.8 380.2L162.2 380.4M162.7 454.4L164.1 455.2M163.8 454.8L164.1 455.2L163.5 455M173.7 460.3L174.8 461M174.6 460.7L174.8 461L174.3 460.9M162.7 445.8L164.6 447M164.2 446.5L164.6 447L163.8 446.7M173.7 451.8L175.1 452.7M174.8 452.4L175.1 452.7L174.4 452.5M162.7 437.3L165 438.7M164.5 438.1L165 438.7L164 438.4M173.7 443.3L175.4 444.4M175.1 443.9L175.4 444.4L174.6 444.1M184.7 449.3L185.8 450M185.6 449.7L185.8 450L185.3 449.8M162.7 428.8L165.4 430.4M164.8 429.7L165.4 430.4L164.2 430M173.7 434.8L175.7 436M175.3 435.5L175.7 436L174.7 435.7M184.7 440.7L186 441.6M185.8 441.2L186 441.6L185.4 441.4M162.7 420.3L165.7 422M165 421.2L165.7 422L164.3 421.6M173.7 426.3L175.9 427.6M175.5 427L175.9 427.6L174.9 427.3M184.7 432.2L186.1 433.1M185.9 432.7L186.1 433.1L185.4 432.9M162.7 411.8L166 413.6M165.3 412.8L166 413.6L164.5 413.2M173.7 417.7L176.1 419.1M175.6 418.5L176.1 419.1L175 418.8M184.7 423.7L186.2 424.5M185.9 424.1L186.2 424.5L185.5 424.3M162.7 403.2L166.6 405.3M165.8 404.4L166.6 405.3L164.8 404.8M173.7 409.2L176.3 410.4M175.8 409.9L176.3 410.4L175.1 410.2M184.7 415.2L186.3 415.8M186 415.5L186.3 415.8L185.5 415.7M162.7 394.7L167.7 397M166.6 396L167.7 397L165.4 396.6M173.7 400.7L176.4 401.5M176 401.1L176.4 401.5L175.1 401.4M184.7 406.7L186.1 406.9M185.9 406.7L186.1 406.9L185.4 406.9M162.7 386.2L169.9 388M168.5 387L169.9 388L166.5 387.9M173.7 392.2L175.8 391.9M175.6 391.8L175.8 391.9L174.7 392.2M162.7 377.7L159.2 370.4M160 373.5L159.2 370.4L160.7 372M173.7 383.6L173.9 382.1M174.2 382.5L173.9 382.1L173.4 382.6M162.7 369.2L160.8 367.4M161.2 368.1L160.8 367.4L161.6 367.9M173.7 375.1L173 373.9M173.1 374.4L173 373.9L173.4 374.2M173.7 448.4L175.2 449.2M174.9 448.8L175.2 449.2L174.6 449M184.7 454.4L186 454.9M185.7 454.7L186 454.9L185.4 454.8M173.7 439.9L175.8 440.9M175.3 440.4L175.8 440.9L174.9 440.7M184.7 445.8L186.5 446.6M186 446.2L186.5 446.6L185.7 446.4M195.6 451.8L197 452.3M196.6 452.1L197 452.3L196.4 452.2M173.7 431.4L176.2 432.6M175.6 432L176.2 432.6L175.1 432.3M184.7 437.3L186.8 438.2M186.3 437.8L186.8 438.2L185.9 438M195.6 443.3L197.2 443.8M196.8 443.6L197.2 443.8L196.6 443.8M173.7 422.8L176.6 424.2M175.9 423.6L176.6 424.2L175.3 424M184.7 428.8L187.1 429.8M186.5 429.3L187.1 429.8L186.1 429.6M195.6 434.8L197.4 435.4M197 435.1L197.4 435.4L196.7 435.3M206.6 440.7L207.8 441.1M207.5 440.9L207.8 441.1L207.3 441M173.7 414.3L176.9 415.9M176.2 415.2L176.9 415.9L175.5 415.5M184.7 420.3L187.4 421.3M186.7 420.8L187.4 421.3L186.3 421.1M195.6 426.3L197.6 426.8M197.1 426.5L197.6 426.8L196.8 426.8M206.6 432.2L207.9 432.5M207.6 432.4L207.9 432.5L207.4 432.5M173.7 405.8L177.3 407.5M176.5 406.7L177.3 407.5L175.7 407.1M184.7 411.8L187.7 412.8M186.9 412.3L187.7 412.8L186.4 412.6M195.6 417.7L197.7 418.2M197.2 418L197.7 418.2L196.8 418.2M206.6 423.7L207.9 423.9M207.6 423.8L207.9 423.9L207.4 423.9M173.7 397.3L177.9 399.1M176.9 398.3L177.9 399.1L176.1 398.8M184.7 403.2L187.9 404.1M187.2 403.6L187.9 404.1L186.6 404M195.6 409.2L197.7 409.5M197.2 409.3L197.7 409.5L196.9 409.6M206.6 415.2L207.9 415.3M207.6 415.2L207.9 415.3L207.4 415.3M173.7 388.8L179.2 390.8M177.9 389.8L179.2 390.8L176.8 390.4M184.7 394.7L188.2 395.2M187.4 394.8L188.2 395.2L186.7 395.2M195.6 400.7L197.6 400.7M197.1 400.5L197.6 400.7L196.8 400.8M173.7 380.2L182.3 381.3M180.3 380.4L182.3 381.3L178.6 381.5M184.7 386.2L187.8 385.4M187.1 385.4L187.8 385.4L186.4 385.9M195.6 392.2L197.1 391.6M196.8 391.7L197.1 391.6L196.5 391.9M173.7 371.7L172.7 363M171.7 366.1L172.7 363L174.4 365.7M184.7 377.7L185.6 375.7M185.4 376.1L185.6 375.7L185.2 376.6M173.7 363.2L172 361.3M172.3 362.1L172 361.3L172.8 361.8M184.7 369.2L184.3 367.8M184.2 368.3L184.3 367.8L184.6 368.2M184.7 442.4L186.7 443.2M186.2 442.9L186.7 443.2L185.9 443.1M195.6 448.4L197.4 448.8M196.9 448.6L197.4 448.8L196.7 448.8M206.6 454.4L207.8 454.6M207.5 454.4L207.8 454.6L207.4 454.6M184.7 433.9L187.7 435.1M187 434.5L187.7 435.1L186.5 434.9M195.6 439.9L198.1 440.4M197.4 440.1L198.1 440.4L197.2 440.4M206.6 445.8L208.2 446.1M207.8 445.9L208.2 446.1L207.6 446.1M184.7 425.4L188.4 426.8M187.4 426.1L188.4 426.8L186.9 426.5M195.6 431.4L198.6 432M197.8 431.6L198.6 432L197.5 431.9M206.6 437.3L208.6 437.6M208 437.4L208.6 437.6L207.9 437.6M217.6 443.3L218.8 443.4M218.5 443.3L218.8 443.4L218.4 443.5M184.7 416.9L188.8 418.4M187.7 417.7L188.8 418.4L187.1 418.2M195.6 422.8L199 423.5M198 423.1L199 423.5L197.7 423.5M206.6 428.8L208.8 429.1M208.2 428.9L208.8 429.1L208 429.1M217.6 434.8L219 434.9M218.6 434.8L219 434.9L218.5 434.9M184.7 408.3L189.1 410M188 409.2L189.1 410L187.3 409.7M195.6 414.3L199.2 415M198.2 414.6L199.2 415L197.9 415M206.6 420.3L209 420.5M208.3 420.3L209 420.5L208.1 420.6M217.6 426.3L219.1 426.3M218.7 426.2L219.1 426.3L218.5 426.4M184.7 399.8L189.5 401.6M188.3 400.7L189.5 401.6L187.5 401.3M195.6 405.8L199.5 406.4M198.4 406L199.5 406.4L198 406.5M206.6 411.8L209.1 411.9M208.4 411.7L209.1 411.9L208.2 412M217.6 417.7L219.1 417.7M218.7 417.6L219.1 417.7L218.5 417.8M184.7 391.3L190.3 393.2M188.9 392.2L190.3 393.2L188 392.9M195.6 397.3L199.8 397.7M198.6 397.3L199.8 397.7L198.2 397.8M206.6 403.2L209.1 403.2M208.4 403.1L209.1 403.2L208.2 403.4M217.6 409.2L219 409.1M218.6 409L219 409.1L218.5 409.2M184.7 382.8L192.3 384.5M190.3 383.5L192.3 384.5L189.2 384.4M195.6 388.8L199.9 388.5M198.7 388.3L199.9 388.5L198.3 388.8M206.6 394.7L208.8 394.3M208.2 394.3L208.8 394.3L208 394.6M217.6 400.7L218.8 400.4M218.5 400.4L218.8 400.4L218.4 400.6M184.7 374.3L196.8 371.6M193.4 371.6L196.8 371.6L192.2 373.3M195.6 380.2L199 378.6M198 378.8L199 378.6L197.8 379.4M206.6 386.2L208.2 385.4M207.7 385.5L208.2 385.4L207.7 385.8M184.7 365.7L183.2 359.5M182.8 361.7L183.2 359.5L184.5 361.4M195.6 371.7L196.6 369.6M196 370.1L196.6 369.6L196.5 370.4M206.6 377.7L207.4 376.7M207.1 376.9L207.4 376.7L207.2 377.1M184.7 357.2L183.4 355.7M183.6 356.3L183.4 355.7L184 356.1M195.6 363.2L195.4 361.9M195.3 362.4L195.4 361.9L195.7 362.3M195.6 436.5L199.8 437.2M198.6 436.7L199.8 437.2L198.3 437.2M206.6 442.4L208.8 442.4M208.1 442.3L208.8 442.4L208.1 442.6M217.6 448.4L218.9 448.4M218.5 448.3L218.9 448.4L218.4 448.5M195.6 427.9L203.1 429.2M200.9 428.3L203.1 429.2L200.4 429.2M206.6 433.9L210 433.8M208.9 433.6L210 433.8L208.9 434M217.6 439.9L219.3 439.8M218.8 439.7L219.3 439.8L218.8 439.9M195.6 419.4L204 420.8M201.6 419.9L204 420.8L201 420.9M206.6 425.4L210.6 425.2M209.3 425L210.6 425.2L209.3 425.5M217.6 431.4L219.7 431.2M219 431.1L219.7 431.2L219 431.4M228.6 437.3L229.8 437.2M229.4 437.2L229.8 437.2L229.4 437.3M195.6 410.9L204.4 412.4M201.8 411.4L204.4 412.4L201.2 412.4M206.6 416.9L211 416.7M209.5 416.5L211 416.7L209.6 417M217.6 422.8L219.9 422.6M219.1 422.6L219.9 422.6L219.2 422.8M228.6 428.8L230 428.7M229.5 428.6L230 428.7L229.5 428.8M195.6 402.4L204.7 404M202.1 402.9L204.7 404L201.4 404M206.6 408.3L211.2 408.2M209.7 407.9L211.2 408.2L209.7 408.5M217.6 414.3L220.1 414.1M219.2 414L220.1 414.1L219.3 414.3M228.6 420.3L230.1 420.1M229.6 420.1L230.1 420.1L229.6 420.3M195.6 393.9L205.2 395.5M202.4 394.4L205.2 395.5L201.7 395.5M206.6 399.8L211.4 399.5M209.8 399.3L211.4 399.5L209.8 399.9M217.6 405.8L220.1 405.5M219.3 405.4L220.1 405.5L219.3 405.7M228.6 411.8L230.1 411.5M229.6 411.5L230.1 411.5L229.6 411.7M195.6 385.3L206.5 386.6M203.4 385.6L206.5 386.6L202.5 386.9M206.6 391.3L211.5 390.6M209.9 390.5L211.5 390.6L209.9 391.1M217.6 397.3L220 396.7M219.2 396.8L220 396.7L219.2 397.1M228.6 403.2L230 402.9M229.5 402.9L230 402.9L229.5 403.1M195.6 376.8L210.2 374.6M205.6 374.4L210.2 374.6L205.2 376.2M206.6 382.8L210.9 381.2M209.4 381.4L210.9 381.2L209.6 382M217.6 388.8L219.6 387.9M218.9 388.1L219.6 387.9L219 388.3M228.6 394.7L229.7 394.2M229.3 394.3L229.7 394.2L229.4 394.5M195.6 368.3L199.6 358.8M197 361.6L199.6 358.8L199.6 362.2M206.6 374.3L209 372M208 372.5L209 372L208.4 372.9M217.6 380.2L218.9 379.2M218.4 379.4L218.9 379.2L218.6 379.7M195.6 359.8L194.2 357M194.3 358L194.2 357L195.1 357.8M206.6 365.7L207.1 364M206.7 364.5L207.1 364L207.2 364.6M195.6 351.3L194.8 350.3M194.9 350.7L194.8 350.3L195.2 350.5M206.6 430.5L209.8 427.3M208.1 428.2L209.8 427.3L209.4 428.6M217.6 436.5L219.2 435.8M218.6 435.9L219.2 435.8L218.8 436.1M206.6 422L212.9 415.1M209.5 417L212.9 415.1L212.2 417.8M217.6 427.9L220.1 426.7M219.1 427L220.1 426.7L219.5 427.3M228.6 433.9L230 433.5M229.4 433.5L230 433.5L229.6 433.7M206.6 413.5L213.3 406.3M209.7 408.3L213.3 406.3L212.5 409.1M217.6 419.4L220.6 418M219.3 418.3L220.6 418L219.9 418.6M228.6 425.4L230.2 424.8M229.6 424.9L230.2 424.8L229.8 425.1M206.6 404.9L213.5 397.8M209.8 399.7L213.5 397.8L212.6 400.5M217.6 410.9L220.8 409.4M219.5 409.7L220.8 409.4L220.1 410.1M228.6 416.9L230.4 416.2M229.7 416.3L230.4 416.2L229.9 416.6M206.6 396.4L213.7 389.3M209.9 391.2L213.7 389.3L212.7 392.1M217.6 402.4L221 400.8M219.6 401.1L221 400.8L220.1 401.5M228.6 408.3L230.5 407.7M229.8 407.8L230.5 407.7L230 408M239.6 414.3L240.8 413.9M240.3 414L240.8 413.9L240.4 414.1M206.6 387.9L213.9 380.8M210.1 382.7L213.9 380.8L212.9 383.6M217.6 393.9L221 392.2M219.6 392.6L221 392.2L220.2 393M228.6 399.8L230.5 399.1M229.8 399.2L230.5 399.1L230 399.4M239.6 405.8L240.7 405.4M240.3 405.4L240.7 405.4L240.4 405.6M206.6 379.4L212.8 371.9M209.5 374L212.8 371.9L212 374.7M217.6 385.3L220.7 383.5M219.4 383.9L220.7 383.5L220 384.3M228.6 391.3L230.3 390.4M229.6 390.6L230.3 390.4L229.8 390.8M206.6 370.9L207.5 365M206.3 366.9L207.5 365L208.1 367M217.6 376.8L219.7 374.8M218.7 375.3L219.7 374.8L219.3 375.6M228.6 382.8L229.9 381.8M229.4 382L229.9 381.8L229.6 382.2M206.6 362.3L205.5 359.6M205.5 360.6L205.5 359.6L206.3 360.4M217.6 368.3L218.4 366.5M217.9 367.1L218.4 366.5L218.4 367.2M228.6 374.3L229.4 373.3M229 373.6L229.4 373.3L229.2 373.7M206.6 353.8L205.7 352.6M205.8 353.1L205.7 352.6L206.2 352.9M217.6 416L216.4 414.1M216.4 414.8L216.4 414.1L217.2 414.7M228.6 422L229.2 420.9M228.8 421.2L229.2 420.9L229.2 421.3M217.6 407.5L216.2 405.3M216.2 406.1L216.2 405.3L217.1 405.9M228.6 413.5L229.3 412.1M228.8 412.5L229.3 412.1L229.3 412.6M217.6 399L216.2 396.7M216.2 397.5L216.2 396.7L217.1 397.4M228.6 404.9L229.4 403.5M228.9 403.9L229.4 403.5L229.4 404M239.6 410.9L240.5 410.2M240.1 410.4L240.5 410.2L240.3 410.5M217.6 390.4L216.3 388.2M216.3 389L216.3 388.2L217.2 388.9M228.6 396.4L229.4 395M228.9 395.4L229.4 395L229.4 395.5M239.6 402.4L240.6 401.6M240.1 401.8L240.6 401.6L240.4 401.9M217.6 381.9L216.4 379.7M216.4 380.5L216.4 379.7L217.2 380.4M228.6 387.9L229.4 386.4M228.9 386.9L229.4 386.4L229.4 387M239.6 393.9L240.5 393M240.1 393.3L240.5 393L240.3 393.4M217.6 373.4L216.6 371.4M216.5 372.1L216.6 371.4L217.3 372M228.6 379.4L229.3 378M228.8 378.4L229.3 378L229.3 378.5M217.6 364.9L216.7 363.4M216.7 363.9L216.7 363.4L217.2 363.8M228.6 370.9L229 369.6M228.7 370L229 369.6L229 370M217.6 356.4L216.8 355.4M216.9 355.7L216.8 355.4L217.2 355.7M228.6 393L227.7 392.1M227.8 392.5L227.7 392.1L228.2 392.4M228.6 384.5L227.7 383.6M227.8 383.9L227.7 383.6L228.2 383.8" fill="none" stroke="#0072BD" stroke-width="0.8" stroke-linejoin="round"/>
<path d="M40.7 354.2L40.7 448.4L162.7 514.7L284.7 448.4" fill="none" stroke="#262626" stroke-width="0.9" stroke-linejoin="round"/>
<path d="M40.7 448.4l-3.7 2M162.7 514.7l3.7 2M71.2 465l-3.7 2M193.2 498.1l3.7 2M101.7 481.5l-3.7 2M223.7 481.5l3.7 2M132.2 498.1l-3.7 2M254.2 465l3.7 2M162.7 514.7l-3.7 2M284.7 448.4l3.7 2M40.7 354.2l-3 -1.6M40.7 373l-3 -1.6M40.7 391.9l-3 -1.6M40.7 410.7l-3 -1.6M40.7 429.6l-3 -1.6M40.7 448.4l-3 -1.6" fill="none" stroke="#262626" stroke-width="0.8"/>
<g font-family="Liberation Sans, sans-serif" font-size="9.6" fill="#333">
<text transform="translate(35.3,356.1) scale(0.99,1)" text-anchor="end">0.2</text>
<text transform="translate(35.3,374.9) scale(0.99,1)" text-anchor="end">0</text>
<text transform="translate(35.3,393.8) scale(0.99,1)" text-anchor="end">-0.2</text>
<text transform="translate(35.3,412.6) scale(0.99,1)" text-anchor="end">-0.4</text>
<text transform="translate(35.3,431.5) scale(0.99,1)" text-anchor="end">-0.6</text>
<text transform="translate(35.3,450.3) scale(0.99,1)" text-anchor="end">-0.8</text>
<text transform="translate(35.5,461.3) scale(0.99,1)" text-anchor="end">-0.5</text>
<text transform="translate(66,477.9) scale(0.99,1)" text-anchor="end">-0.25</text>
<text transform="translate(96.5,494.4) scale(0.99,1)" text-anchor="end">0</text>
<text transform="translate(127,511) scale(0.99,1)" text-anchor="end">0.25</text>
<text transform="translate(157.5,527.6) scale(0.99,1)" text-anchor="end">0.5</text>
<text transform="translate(168.1,527.6) scale(0.99,1)">-0.5</text>
<text transform="translate(198.6,511) scale(0.99,1)">-0.25</text>
<text transform="translate(229.1,494.4) scale(0.99,1)">0</text>
<text transform="translate(259.6,477.9) scale(0.99,1)">0.25</text>
<text transform="translate(290.1,461.3) scale(0.99,1)">0.5</text>
</g>
<g font-family="Liberation Serif, serif" font-size="11.8" fill="#555">
<text x="78.7" y="523.4" text-anchor="middle"><tspan font-style="italic">z</tspan>(mm)</text>
<text x="246.3" y="523.4" text-anchor="middle"><tspan font-style="italic">x</tspan>(mm)</text>
<text transform="translate(12.2,400.9) rotate(-90)" text-anchor="middle"><tspan font-style="italic">y</tspan>(mm)</text>
</g>
</g>
<g id="pd">
<path d="M343.8 448.4L343.8 354.2M465.8 382.1L465.8 287.9M343.8 448.4L465.8 514.7M343.8 448.4L465.8 382.1M374.3 431.8L374.3 337.6M496.3 398.7L496.3 304.5M374.3 431.8L496.3 498.1M374.3 465L496.3 398.7M404.8 415.2L404.8 321.1M526.8 415.2L526.8 321.1M404.8 415.2L526.8 481.5M404.8 481.5L526.8 415.2M435.3 398.7L435.3 304.5M557.3 431.8L557.3 337.6M435.3 398.7L557.3 465M435.3 498.1L557.3 431.8M465.8 382.1L465.8 287.9M587.8 448.4L587.8 354.2M465.8 382.1L587.8 448.4M465.8 514.7L587.8 448.4M343.8 354.2L465.8 287.9M465.8 287.9L587.8 354.2M343.8 373L465.8 306.7M465.8 306.7L587.8 373M343.8 391.9L465.8 325.6M465.8 325.6L587.8 391.9M343.8 410.7L465.8 344.4M465.8 344.4L587.8 410.7M343.8 429.6L465.8 363.3M465.8 363.3L587.8 429.6M343.8 448.4L465.8 382.1M465.8 382.1L587.8 448.4" fill="none" stroke="#D6D6D6" stroke-width="0.7"/>
<path d="M454 431.5h1M454 422.5h1M454 414.5h1M454 405.5h1M454 397.5h1M443 394.5h1M454 388.5h1M465 394.5h1M476 400.5h1M487 406.5h1M498 412.5h1M454 380.5h1M465 382.5h1M476 388.5h1M487 394.5h1M498 400.5h1M465 374.5h1M476 380.5h1M487 386.5h1M465 365.5h1" fill="none" stroke="#0072BD" stroke-width="1.0" stroke-opacity="0.42"/>
<path d="M345 448.5h1M345 363.5h1M345 354.5h1M356 360.5h1M356 442.5h1M356 348.5h1M366 436.5h1M377 430.5h1M432 460.5h1M388 424.5h1M399 430.5h1M432 448.5h1M443 454.5h1M388 416.5h1M432 439.5h1M399 418.5h1M410 424.5h1M421 430.5h1M432 436.5h1M443 442.5h1M454 448.5h1M399 410.5h1M443 433.5h1M454 439.5h1M443 425.5h1M410 412.5h1M421 418.5h1M432 424.5h1M410 404.5h1M421 410.5h1M410 395.5h1M421 406.5h1M432 412.5h1M443 418.5h1M421 398.5h1M432 404.5h1M421 389.5h1M432 400.5h1M443 406.5h1M454 412.5h1M432 392.5h1M443 398.5h1M432 383.5h1M432 375.5h1M432 306.5h1M454 400.5h1M465 406.5h1M476 412.5h1M443 386.5h1M454 392.5h1M465 398.5h1M443 377.5h1M454 383.5h1M443 369.5h1M443 360.5h1M443 309.5h1M443 300.5h1M465 386.5h1M476 392.5h1M487 398.5h1M454 371.5h1M465 377.5h1M476 383.5h1M454 363.5h1M465 369.5h1M454 354.5h1M454 346.5h1M454 337.5h1M454 329.5h1M454 320.5h1M454 312.5h1M454 303.5h1M454 295.5h1M465 300.5h1M509 406.5h1M498 392.5h1M476 371.5h1M487 377.5h1M498 383.5h1M465 357.5h1M476 363.5h1M487 369.5h1M465 348.5h1M476 354.5h1M465 340.5h1M476 346.5h1M465 331.5h1M465 323.5h1M465 314.5h1M465 306.5h1M465 297.5h1M476 303.5h1M465 289.5h1M476 295.5h1M487 300.5h1" fill="none" stroke="#0072BD" stroke-width="1.0" stroke-opacity="0.58"/>
<path d="M356 454.5h1M366 460.5h1M345 439.5h1M356 445.5h1M345 431.5h1M356 437.5h1M345 422.5h1M345 414.5h1M345 405.5h1M345 397.5h1M345 388.5h1M345 380.5h1M345 371.5h1M356 377.5h1M356 369.5h1M366 375.5h1M377 381.5h1M399 393.5h1M366 366.5h1M377 372.5h1M388 378.5h1M399 384.5h1M366 448.5h1M356 433.5h1M366 439.5h1M356 425.5h1M356 416.5h1M356 408.5h1M356 399.5h1M356 391.5h1M356 382.5h1M356 374.5h1M356 365.5h1M356 357.5h1M366 363.5h1M366 354.5h1M377 360.5h1M388 366.5h1M399 372.5h1M410 378.5h1M377 442.5h1M388 448.5h1M366 427.5h1M377 433.5h1M366 419.5h1M366 410.5h1M366 402.5h1M366 368.5h1M366 359.5h1M366 351.5h1M377 357.5h1M366 342.5h1M377 348.5h1M388 354.5h1M388 436.5h1M399 442.5h1M377 421.5h1M388 427.5h1M377 413.5h1M388 419.5h1M377 404.5h1M377 396.5h1M377 353.5h1M377 345.5h1M377 336.5h1M388 342.5h1M410 436.5h1M421 442.5h1M399 421.5h1M410 427.5h1M421 433.5h1M443 445.5h1M388 407.5h1M399 413.5h1M432 431.5h1M443 437.5h1M388 398.5h1M432 422.5h1M388 390.5h1M388 381.5h1M443 411.5h1M443 403.5h1M443 394.5h1M388 347.5h1M388 339.5h1M388 330.5h1M399 336.5h1M410 416.5h1M421 421.5h1M432 427.5h1M399 401.5h1M410 407.5h1M421 413.5h1M432 419.5h1M399 393.5h1M410 398.5h1M443 416.5h1M399 384.5h1M443 408.5h1M399 375.5h1M443 399.5h1M454 388.5h1M399 341.5h1M399 333.5h1M399 324.5h1M410 330.5h1M443 430.5h1M454 436.5h1M465 442.5h1M432 416.5h1M443 421.5h1M454 427.5h1M465 433.5h1M421 401.5h1M432 407.5h1M465 425.5h1M410 387.5h1M421 393.5h1M465 416.5h1M410 378.5h1M465 408.5h1M410 369.5h1M465 399.5h1M410 361.5h1M410 352.5h1M410 344.5h1M410 335.5h1M410 327.5h1M410 318.5h1M421 324.5h1M454 424.5h1M443 410.5h1M432 395.5h1M443 401.5h1M421 381.5h1M432 387.5h1M421 372.5h1M432 378.5h1M421 364.5h1M421 355.5h1M421 346.5h1M421 338.5h1M421 329.5h1M421 321.5h1M421 312.5h1M432 318.5h1M465 418.5h1M454 404.5h1M443 389.5h1M454 395.5h1M443 381.5h1M432 366.5h1M443 372.5h1M432 358.5h1M432 349.5h1M432 341.5h1M432 332.5h1M432 323.5h1M432 315.5h1M443 321.5h1M443 312.5h1M465 389.5h1M454 375.5h1M454 366.5h1M443 352.5h1M454 358.5h1M443 343.5h1M454 349.5h1M443 335.5h1M443 326.5h1M454 332.5h1M443 318.5h1M454 323.5h1M454 315.5h1M454 306.5h1M465 312.5h1M498 404.5h1M487 389.5h1M476 375.5h1M465 360.5h1M476 366.5h1M465 352.5h1M465 343.5h1M465 335.5h1M465 326.5h1M465 318.5h1M465 309.5h1M476 315.5h1M476 306.5h1M487 312.5h1M509 398.5h1M498 375.5h1M487 360.5h1M487 352.5h1M476 337.5h1M487 343.5h1M476 329.5h1M487 335.5h1M476 320.5h1M487 326.5h1M476 312.5h1M487 318.5h1M487 309.5h1M498 315.5h1M498 306.5h1M509 312.5h1M520 318.5h1" fill="none" stroke="#0072BD" stroke-width="1.0" stroke-opacity="0.72"/>
<path d="M377 466.5h1M366 451.5h1M366 443.5h1M356 428.5h1M356 420.5h1M356 411.5h1M356 403.5h1M356 394.5h1M356 386.5h1M366 392.5h1M366 383.5h1M377 389.5h1M399 401.5h1M388 387.5h1M377 454.5h1M377 445.5h1M366 431.5h1M366 422.5h1M366 414.5h1M366 405.5h1M366 397.5h1M366 388.5h1M366 380.5h1M366 371.5h1M377 377.5h1M377 369.5h1M388 375.5h1M410 387.5h1M388 439.5h1M377 425.5h1M377 416.5h1M377 408.5h1M366 393.5h1M366 385.5h1M366 376.5h1M377 374.5h1M377 365.5h1M388 363.5h1M399 360.5h1M410 366.5h1M421 372.5h1M410 448.5h1M421 454.5h1M399 433.5h1M410 439.5h1M399 425.5h1M388 410.5h1M388 402.5h1M377 387.5h1M388 393.5h1M377 379.5h1M377 370.5h1M377 362.5h1M388 359.5h1M388 351.5h1M399 348.5h1M410 354.5h1M410 419.5h1M421 425.5h1M399 404.5h1M410 410.5h1M421 416.5h1M443 428.5h1M399 396.5h1M432 414.5h1M443 420.5h1M399 387.5h1M388 373.5h1M399 379.5h1M388 364.5h1M388 356.5h1M399 353.5h1M399 345.5h1M410 342.5h1M421 404.5h1M432 410.5h1M410 390.5h1M421 396.5h1M432 402.5h1M410 381.5h1M399 367.5h1M410 373.5h1M399 358.5h1M399 350.5h1M410 347.5h1M410 339.5h1M421 336.5h1M443 413.5h1M454 419.5h1M432 398.5h1M443 404.5h1M454 410.5h1M421 384.5h1M432 390.5h1M443 396.5h1M454 402.5h1M421 375.5h1M432 381.5h1M421 367.5h1M465 391.5h1M421 358.5h1M421 350.5h1M421 341.5h1M421 333.5h1M432 330.5h1M465 430.5h1M454 416.5h1M443 393.5h1M443 384.5h1M432 369.5h1M432 361.5h1M432 352.5h1M432 344.5h1M432 335.5h1M432 327.5h1M443 324.5h1M465 410.5h1M454 387.5h1M454 378.5h1M443 364.5h1M443 355.5h1M443 346.5h1M443 338.5h1M443 329.5h1M454 327.5h1M454 318.5h1M465 324.5h1M487 418.5h1M476 404.5h1M465 381.5h1M465 372.5h1M465 364.5h1M454 341.5h1M465 329.5h1M465 321.5h1M476 318.5h1M487 324.5h1M487 381.5h1M487 372.5h1M476 358.5h1M476 349.5h1M476 341.5h1M476 332.5h1M476 323.5h1M487 321.5h1M498 318.5h1M509 324.5h1M520 412.5h1M509 389.5h1M509 381.5h1M498 366.5h1M498 358.5h1M498 349.5h1M498 341.5h1M498 332.5h1M498 323.5h1M509 321.5h1M520 327.5h1" fill="none" stroke="#0072BD" stroke-width="1.0" stroke-opacity="0.85"/>
<path d="M388.9 472.3L387.7 473M388.1 472.8L387.7 473L388 472.7M399.9 478.2L398.6 479.4M399.1 479.1L398.6 479.4L398.9 478.9M378 457.8L376.6 458.2M377.1 458.1L376.6 458.2L377.1 458M388.9 463.7L387.2 464.5M387.8 464.4L387.2 464.5L387.7 464.1M399.9 469.7L398 471M398.8 470.7L398 471L398.5 470.4M378 449.3L376.4 449.6M376.9 449.6L376.4 449.6L376.9 449.4M388.9 455.2L386.9 455.9M387.6 455.8L386.9 455.9L387.5 455.6M399.9 461.2L397.6 462.5M398.6 462.2L397.6 462.5L398.2 461.9M367 434.8L365.7 434.9M366.1 434.9L365.7 434.9L366.1 434.8M378 440.7L376.2 441M376.8 441L376.2 441L376.8 440.8M388.9 446.7L386.6 447.3M387.5 447.2L386.6 447.3L387.3 447M399.9 452.7L397.4 453.8M398.4 453.6L397.4 453.8L398.1 453.3M367 426.3L365.6 426.3M366.1 426.4L365.6 426.3L366.1 426.2M378 432.2L376.1 432.4M376.7 432.4L376.1 432.4L376.7 432.2M388.9 438.2L386.5 438.7M387.4 438.6L386.5 438.7L387.3 438.4M399.9 444.2L397.3 445.2M398.4 445L397.3 445.2L398 444.7M367 417.7L365.6 417.7M366.1 417.8L365.6 417.7L366.1 417.6M378 423.7L376.1 423.8M376.7 423.9L376.1 423.8L376.7 423.6M388.9 429.7L386.5 430M387.4 430L386.5 430L387.2 429.7M399.9 435.6L397.3 436.5M398.4 436.4L397.3 436.5L398 436.1M367 409.2L365.6 409.1M366.1 409.2L365.6 409.1L366.1 409.1M378 415.2L376.2 415.1M376.8 415.3L376.2 415.1L376.7 415M388.9 421.1L386.6 421.3M387.5 421.4L386.6 421.3L387.3 421.1M399.9 427.1L397.5 427.8M398.5 427.7L397.5 427.8L398.1 427.4M367 400.7L365.7 400.5M366.1 400.7L365.7 400.5L366.1 400.5M378 406.7L376.3 406.5M376.9 406.7L376.3 406.5L376.8 406.5M388.9 412.6L386.9 412.7M387.7 412.8L386.9 412.7L387.5 412.5M399.9 418.6L397.8 418.9M398.7 419L397.8 418.9L398.4 418.7M378 398.1L376.6 397.9M377.1 398.1L376.6 397.9L377 397.9M388.9 404.1L387.3 404M387.9 404.1L387.3 404L387.8 403.9M399.9 410.1L398.3 410.2M399 410.2L398.3 410.2L398.7 410M388.9 395.6L387.7 395.4M388.2 395.5L387.7 395.4L388 395.4M388.9 460.3L387.7 460.7M388.1 460.7L387.7 460.7L388.1 460.5M399.9 466.3L398 467.1M398.7 467L398 467.1L398.6 466.7M410.9 472.3L408.2 474.3M409.3 473.8L408.2 474.3L408.9 473.4M388.9 451.8L387.3 452.1M387.8 452.1L387.3 452.1L387.9 451.9M399.9 457.8L397.1 458.5M398 458.4L397.1 458.5L398.1 458.1M410.9 463.7L406.5 465.9M408.2 465.5L406.5 465.9L407.7 464.9M378 437.3L376.6 437.4M377 437.5L376.6 437.4L377.1 437.3M388.9 443.3L387 443.5M387.6 443.5L387 443.5L387.6 443.3M399.9 449.3L396.6 449.8M397.7 449.8L396.6 449.8L397.7 449.4M410.9 455.2L405.8 457.2M407.7 456.8L405.8 457.2L407.2 456.2M378 428.8L376.5 428.8M376.9 428.9L376.5 428.8L377 428.7M388.9 434.8L386.7 434.8M387.4 434.9L386.7 434.8L387.5 434.7M399.9 440.7L396.3 441.1M397.5 441.2L396.3 441.1L397.5 440.7M410.9 446.7L405.5 448.5M407.5 448.2L405.5 448.5L407 447.6M378 420.3L376.4 420.2M376.9 420.3L376.4 420.2L377 420.1M388.9 426.3L386.6 426.2M387.3 426.3L386.6 426.2L387.4 426.1M399.9 432.2L396.1 432.4M397.4 432.6L396.1 432.4L397.4 432.1M410.9 438.2L405.3 439.8M407.4 439.6L405.3 439.8L406.9 438.9M378 411.8L376.3 411.6M376.8 411.7L376.3 411.6L376.9 411.5M388.9 417.7L386.6 417.5M387.3 417.7L386.6 417.5L387.4 417.5M399.9 423.7L396.1 423.7M397.4 423.9L396.1 423.7L397.3 423.5M410.9 429.7L405.3 431M407.4 430.9L405.3 431L406.8 430.2M378 403.2L376.4 403M376.9 403.2L376.4 403L376.9 403M388.9 409.2L386.6 408.9M387.3 409.2L386.6 408.9L387.4 408.9M399.9 415.2L396.2 415M397.5 415.3L396.2 415L397.4 414.9M410.9 421.1L405.6 422.1M407.6 422.1L405.6 422.1L407.1 421.4M378 394.7L376.4 394.4M376.9 394.6L376.4 394.4L377 394.4M388.9 400.7L386.8 400.3M387.5 400.6L386.8 400.3L387.5 400.3M399.9 406.7L396.7 406.3M397.8 406.6L396.7 406.3L397.7 406.2M410.9 412.6L406.8 413M408.4 413.1L406.8 413L407.9 412.6M378 386.2L376.6 385.8M377 386L376.6 385.8L377.1 385.9M388.9 392.2L387.1 391.7M387.7 392L387.1 391.7L387.7 391.8M399.9 398.1L397.4 397.7M398.3 398L397.4 397.7L398.2 397.7M410.9 404.1L408.1 404M409.3 404.2L408.1 404L408.8 403.9M388.9 383.6L387.5 383.2M388 383.5L387.5 383.2L388 383.3M399.9 389.6L398.2 389.2M398.8 389.4L398.2 389.2L398.7 389.2M410.9 395.6L409.2 395.3M409.9 395.5L409.2 395.3L409.6 395.3M399.9 381.1L398.7 380.7M399.2 380.9L398.7 380.7L399.1 380.7M399.9 454.4L398.7 454.7M399 454.7L398.7 454.7L399.2 454.5M410.9 460.3L408.8 460.9M409.4 460.9L408.8 460.9L409.7 460.6M421.9 466.3L414.6 468.9M416.6 468.7L414.6 468.9L417.4 467.5M399.9 445.8L398.3 445.9M398.7 446L398.3 445.9L398.9 445.8M410.9 451.8L407.7 451.8M408.5 452L407.7 451.8L409 451.6M421.9 457.8L407.6 456.8M411.7 458L407.6 456.8L412.9 456.3M388.9 431.4L387.6 431.3M388 431.4L387.6 431.3L388.1 431.2M399.9 437.3L397.9 437.2M398.5 437.4L397.9 437.2L398.7 437.1M410.9 443.3L407.1 442.8M408.1 443.2L407.1 442.8L408.6 442.7M421.9 449.3L406.8 447.2M411.2 448.8L406.8 447.2L412.4 447M388.9 422.8L387.5 422.7M387.9 422.8L387.5 422.7L388 422.6M399.9 428.8L397.7 428.5M398.3 428.7L397.7 428.5L398.6 428.5M410.9 434.8L406.8 434M407.9 434.5L406.8 434L408.4 434M421.9 440.7L406.6 438.3M411 440L406.6 438.3L412.2 438.2M388.9 414.3L387.4 414M387.8 414.2L387.4 414L388 414M399.9 420.3L397.6 419.8M398.2 420.1L397.6 419.8L398.5 419.8M410.9 426.3L406.6 425.3M407.8 425.9L406.6 425.3L408.3 425.4M421.9 432.2L406.4 429.5M410.9 431.3L406.4 429.5L412.1 429.5M378 399.8L376.8 399.6M377.1 399.7L376.8 399.6L377.2 399.6M388.9 405.8L387.3 405.4M387.7 405.6L387.3 405.4L387.9 405.5M399.9 411.8L397.4 411.2M398.1 411.5L397.4 411.2L398.4 411.2M410.9 417.7L406.5 416.6M407.7 417.3L406.5 416.6L408.2 416.7M421.9 423.7L406 420.9M410.7 422.8L406 420.9L411.8 420.9M378 391.3L376.7 391M377.1 391.2L376.7 391L377.2 391M388.9 397.3L387.2 396.8M387.7 397.1L387.2 396.8L387.9 396.9M399.9 403.2L397.4 402.6M398.1 402.9L397.4 402.6L398.3 402.6M410.9 409.2L406.2 408M407.6 408.7L406.2 408L408 408.1M421.9 415.2L405.7 412.6M410.7 414.4L405.7 412.6L411.4 412.5M378 382.8L376.8 382.4M377.1 382.6L376.8 382.4L377.2 382.5M388.9 388.8L387.3 388.2M387.8 388.5L387.3 388.2L387.9 388.3M399.9 394.7L397.4 394M398.1 394.4L397.4 394L398.3 394.1M410.9 400.7L406.3 399.5M407.7 400.2L406.3 399.5L408 399.6M421.9 406.7L409.9 405.1M414 406.3L409.9 405.1L413.7 404.8M388.9 380.2L387.4 379.7M387.9 380L387.4 379.7L388 379.8M399.9 386.2L397.7 385.4M398.3 385.8L397.7 385.4L398.5 385.5M410.9 392.2L407.2 391M408.4 391.7L407.2 391L408.4 391.2M421.9 398.1L416 397M418.2 397.8L416 397L417.7 397M388.9 371.7L387.6 371.1M388 371.4L387.6 371.1L388.1 371.2M399.9 377.7L398.1 376.9M398.7 377.3L398.1 376.9L398.8 377.1M410.9 383.6L408.4 382.7M409.3 383.2L408.4 382.7L409.2 382.8M421.9 389.6L419.1 388.7M420.2 389.3L419.1 388.7L419.8 388.8M399.9 369.2L398.6 368.5M399.1 368.8L398.6 368.5L399.1 368.6M410.9 375.1L409.4 374.4M409.9 374.7L409.4 374.4L409.9 374.5M421.9 381.1L420.5 380.4M421.1 380.8L420.5 380.4L420.8 380.5M421.9 445.8L420.5 445.4M420.6 445.7L420.5 445.4L421.3 445.5M432.9 451.8L433.8 449.9M432.8 450.5L433.8 449.9L434.3 450.6M410.9 431.4L409.5 431.1M409.8 431.2L409.5 431.1L410.1 431.1M421.9 437.3L420.3 436.4M420.5 436.8L420.3 436.4L421.1 436.6M432.9 443.3L433.9 440.5M432.8 441.3L433.9 440.5L434.3 441.5M399.9 416.9L398.7 416.6M399 416.8L398.7 416.6L399.2 416.6M410.9 422.8L409.3 422.3M409.7 422.6L409.3 422.3L410 422.4M421.9 428.8L420.1 427.6M420.3 428.1L420.1 427.6L421 427.9M432.9 434.8L433.8 431.6M432.8 432.6L433.8 431.6L434.3 432.7M399.9 408.3L398.5 408M398.9 408.2L398.5 408L399.1 408M410.9 414.3L409.2 413.7M409.6 414L409.2 413.7L409.9 413.8M421.9 420.3L419.9 418.9M420.2 419.5L419.9 418.9L420.9 419.2M432.9 426.3L433.7 422.9M432.7 424L433.7 422.9L434.2 424.1M399.9 399.8L398.4 399.4M398.8 399.6L398.4 399.4L399 399.4M410.9 405.8L409 405M409.4 405.4L409 405L409.8 405.2M421.9 411.8L419.7 410.3M420.1 410.9L419.7 410.3L420.7 410.7M432.9 417.7L433.4 414.5M432.5 415.5L433.4 414.5L434 415.6M388.9 385.3L387.8 384.9M388.1 385.1L387.8 384.9L388.2 385M399.9 391.3L398.3 390.7M398.8 391L398.3 390.7L399 390.8M410.9 397.3L408.8 396.4M409.3 396.8L408.8 396.4L409.6 396.6M421.9 403.2L419.1 401.7M419.7 402.4L419.1 401.7L420.4 402M432.9 409.2L432.6 406.1M431.9 407.1L432.6 406.1L433.5 407.1M388.9 376.8L387.8 376.3M388.1 376.6L387.8 376.3L388.2 376.4M399.9 382.8L398.3 382.1M398.7 382.4L398.3 382.1L398.9 382.2M410.9 388.8L408.5 387.7M409.1 388.2L408.5 387.7L409.5 387.9M421.9 394.7L418.1 392.9M419 393.8L418.1 392.9L419.7 393.3M432.9 400.7L428 396.2M428.4 398L428 396.2L430.8 397.4M388.9 368.3L387.8 367.8M388.1 368L387.8 367.8L388.3 367.9M399.9 374.3L398.3 373.5M398.8 373.9L398.3 373.5L399 373.7M410.9 380.2L408.5 379.1M409.1 379.6L408.5 379.1L409.4 379.3M421.9 386.2L417.5 384.2M418.7 385.1L417.5 384.2L419.2 384.6M432.9 392.2L418.3 385.8M422.5 388.8L418.3 385.8L423.7 386.9M399.9 365.7L398.5 365M398.9 365.3L398.5 365L399.1 365.1M410.9 371.7L408.9 370.6M409.4 371.1L408.9 370.6L409.6 370.8M421.9 377.7L418.6 375.9M419.6 376.7L418.6 375.9L419.8 376.3M432.9 383.6L428.1 381M429.8 382.3L428.1 381L429.5 381.5M399.9 357.2L398.8 356.5M399.1 356.8L398.8 356.5L399.3 356.7M410.9 363.2L409.5 362.2M409.9 362.7L409.5 362.2L410 362.4M421.9 369.2L420 367.9M420.6 368.5L420 367.9L420.7 368.1M432.9 375.1L431.1 373.8M431.8 374.4L431.1 373.8L431.5 374M421.9 360.6L420.9 359.8M421.2 360.2L420.9 359.8L421.2 359.9M432.9 366.6L432 365.7M432.4 366.1L432 365.7L432.2 365.9M410.9 402.4L409.8 402M410 402.2L409.8 402L410.3 402.1M421.9 408.3L420.7 407.8M420.9 408.1L420.7 407.8L421.2 407.9M410.9 393.9L409.6 393.4M409.9 393.6L409.6 393.4L410.2 393.5M421.9 399.8L420.5 399.2M420.8 399.5L420.5 399.2L421.1 399.3M432.9 405.8L431.9 405M432 405.3L431.9 405L432.5 405.2M410.9 385.3L409.5 384.7M409.8 385L409.5 384.7L410.1 384.8M421.9 391.3L420.3 390.5M420.6 390.9L420.3 390.5L421 390.7M432.9 397.3L431.5 396.4M431.7 396.8L431.5 396.4L432.2 396.6M399.9 370.9L398.8 370.3M399.1 370.5L398.8 370.3L399.3 370.4M410.9 376.8L409.4 376.1M409.8 376.4L409.4 376.1L410 376.2M421.9 382.8L419.9 381.8M420.4 382.2L419.9 381.8L420.8 382M432.9 388.8L430.6 387.5M431.1 388.1L430.6 387.5L431.7 387.8M399.9 362.3L398.8 361.7M399.1 362L398.8 361.7L399.3 361.8M410.9 368.3L409.4 367.4M409.8 367.8L409.4 367.4L410 367.6M421.9 374.3L419.6 373M420.2 373.6L419.6 373L420.6 373.3M432.9 380.2L429.2 378.2M430.1 379.1L429.2 378.2L430.7 378.7M443.8 386.2L437.8 383.3M438.7 384.6L437.8 383.3L440.9 383.9M410.9 359.8L409.5 358.9M409.9 359.2L409.5 358.9L410.1 359.1M421.9 365.7L419.8 364.3M420.3 364.9L419.8 364.3L420.7 364.7M432.9 371.7L429.2 369.2M430.2 370.3L429.2 369.2L430.7 369.8M443.8 377.7L435.5 371.1M437.9 374L435.5 371.1L438.7 372.5M410.9 351.3L409.8 350.4M410.1 350.8L409.8 350.4L410.3 350.6M421.9 357.2L420.4 356M420.8 356.5L420.4 356L421 356.3M432.9 363.2L430.8 361.3M431.4 362.1L430.8 361.3L431.6 361.7M443.8 369.2L441.8 366.7M442.5 367.8L441.8 366.7L442.4 367.2M421.9 348.7L420.9 347.7M421.2 348.1L420.9 347.7L421.3 348M432.9 354.7L431.8 353.5M432.1 354L431.8 353.5L432.2 353.7M443.8 360.6L443.1 359.4M443.4 359.9L443.1 359.4L443.2 359.6M421.9 387.9L420.8 387.4M421 387.6L420.8 387.4L421.2 387.5M432.9 393.9L431.7 393.4M431.9 393.6L431.7 393.4L432.2 393.5M421.9 379.4L420.6 378.8M420.9 379L420.6 378.8L421.2 378.9M432.9 385.3L431.5 384.7M431.8 385L431.5 384.7L432.1 384.8M443.8 391.3L442.7 390.9M442.9 391.1L442.7 390.9L443.3 390.9M410.9 364.9L409.9 364.3M410.1 364.5L409.9 364.3L410.3 364.4M421.9 370.9L420.5 370.1M420.8 370.4L420.5 370.1L421.1 370.3M432.9 376.8L431.2 375.9M431.5 376.3L431.2 375.9L431.9 376.1M443.8 382.8L442.1 382.1M442.4 382.4L442.1 382.1L442.9 382.2M410.9 356.4L409.9 355.7M410.1 356L409.9 355.7L410.3 355.8M421.9 362.3L420.5 361.4M420.8 361.8L420.5 361.4L421.1 361.6M432.9 368.3L430.8 367M431.3 367.6L430.8 367L431.7 367.3M443.8 374.3L440.8 372.6M441.5 373.3L440.8 372.6L442.1 373M454.8 380.2L451.7 380.3M452.1 380.5L451.7 380.3L453.3 380M421.9 353.8L420.6 352.8M420.9 353.2L420.6 352.8L421.2 353M432.9 359.8L430.9 358.2M431.4 358.8L430.9 358.2L431.8 358.6M443.8 365.7L440.4 362.8M441.1 364L440.4 362.8L441.9 363.6M454.8 371.7L444.1 361.7M446.5 365.8L444.1 361.7L448.8 364.2M421.9 345.3L420.9 344.3M421.1 344.7L420.9 344.3L421.3 344.5M432.9 351.3L431.5 349.8M431.8 350.4L431.5 349.8L432.1 350.2M443.8 357.2L441.9 354.8M442.3 355.8L441.9 354.8L442.8 355.4M454.8 363.2L453.1 359.6M453.4 361.1L453.1 359.6L453.9 360.4M432.9 342.7L432 341.6M432.2 342.1L432 341.6L432.4 341.9M443.8 348.7L443 347.2M443.1 347.8L443 347.2L443.4 347.6M454.8 354.7L454.3 353M454.4 353.7L454.3 353L454.6 353.4M443.8 387.9L442.6 387.5M442.9 387.7L442.6 387.5L443.1 387.5M454.8 393.9L453.6 393.7M453.9 393.9L453.6 393.7L454.1 393.7M432.9 373.4L431.7 372.8M431.9 373L431.7 372.8L432.2 372.9M443.8 379.4L442.4 378.8M442.7 379.1L442.4 378.8L443 378.9M454.8 385.3L453.4 385.1M453.7 385.3L453.4 385.1L454 385.1M432.9 364.9L431.6 364.1M431.9 364.4L431.6 364.1L432.2 364.3M443.8 370.9L442.2 369.9M442.5 370.3L442.2 369.9L442.9 370.1M454.8 376.8L452.8 376.2M453.3 376.6L452.8 376.2L453.7 376.3M465.8 382.8L464.4 383.5M464.7 383.4L464.4 383.5L465 383.1M432.9 356.4L431.6 355.3M431.9 355.8L431.6 355.3L432.2 355.6M443.8 362.3L442 360.9M442.4 361.5L442 360.9L442.8 361.3M454.8 368.3L451.8 366.7M452.5 367.4L451.8 366.7L453.1 367M465.8 374.3L461.4 375M462.4 375.1L461.4 375L463.3 374.4M432.9 347.8L431.7 346.7M432 347.2L431.7 346.7L432.3 347M443.8 353.8L442.2 352.1M442.5 352.8L442.2 352.1L443 352.5M454.8 359.8L451.8 356.6M452.4 357.9L451.8 356.6L453.2 357.5M465.8 365.7L457 354.6M458.5 358.9L457 354.6L461.3 357.7M432.9 339.3L432 338.2M432.2 338.7L432 338.2L432.4 338.5M443.8 345.3L442.7 343.7M442.9 344.3L442.7 343.7L443.3 344.1M454.8 351.3L453.4 348.6M453.5 349.6L453.4 348.6L454.2 349.4M465.8 357.2L465 353.1M464.6 354.6L465 353.1L465.8 354.3M443.8 336.8L443.2 335.5M443.2 336L443.2 335.5L443.5 335.9M454.8 342.7L454.2 341.1M454.2 341.7L454.2 341.1L454.6 341.6M465.8 348.7L465.6 346.8M465.4 347.5L465.6 346.8L466 347.4M476.8 436.5L475.7 437.6M476.2 437.4L475.7 437.6L476 437.1M465.8 422L464.3 422.4M464.8 422.4L464.3 422.4L464.9 422.2M476.8 427.9L475.1 429.2M475.8 428.9L475.1 429.2L475.6 428.6M454.8 407.5L453.6 407.4M453.9 407.5L453.6 407.4L454.1 407.4M465.8 413.5L464.1 413.7M464.6 413.8L464.1 413.7L464.7 413.5M476.8 419.4L474.8 420.5M475.6 420.3L474.8 420.5L475.4 420M454.8 399L453.5 398.7M453.8 398.9L453.5 398.7L454 398.7M465.8 404.9L463.9 405M464.5 405.1L463.9 405L464.6 404.9M476.8 410.9L474.7 411.8M475.5 411.6L474.7 411.8L475.3 411.4M454.8 390.4L453.4 390.1M453.7 390.3L453.4 390.1L454 390.1M465.8 396.4L463.8 396.4M464.4 396.5L463.8 396.4L464.6 396.3M476.8 402.4L474.7 403.1M475.5 403L474.7 403.1L475.3 402.8M443.8 376L442.7 375.4M443 375.6L442.7 375.4L443.2 375.5M454.8 381.9L453.3 381.4M453.7 381.7L453.3 381.4L454 381.5M465.8 387.9L463.8 387.7M464.3 387.9L463.8 387.7L464.5 387.6M476.8 393.9L474.7 394.6M475.5 394.5L474.7 394.6L475.4 394.2M443.8 367.4L442.7 366.7M442.9 367L442.7 366.7L443.2 366.9M454.8 373.4L453.2 372.6M453.6 373L453.2 372.6L453.9 372.8M465.8 379.4L463.6 379M464.2 379.2L463.6 379L464.5 379M476.8 385.3L474.5 386.1M475.3 386L474.5 386.1L475.2 385.7M443.8 358.9L442.7 358M442.9 358.4L442.7 358L443.2 358.2M454.8 364.9L453.1 363.8M453.5 364.2L453.1 363.8L453.9 364M465.8 370.9L463.1 369.9M463.7 370.4L463.1 369.9L464.2 370.1M476.8 376.8L473.3 378M474.4 377.8L473.3 378L474.5 377.3M443.8 350.4L442.8 349.3M442.9 349.7L442.8 349.3L443.3 349.6M454.8 356.4L453.2 354.8M453.5 355.4L453.2 354.8L454 355.2M465.8 362.3L462.7 360M463.3 361L462.7 360L464.1 360.6M476.8 368.3L467.2 367.3M469.7 368.2L467.2 367.3L471.1 367M443.8 341.9L443 340.7M443.1 341.1L443 340.7L443.4 341M454.8 347.8L453.5 346M453.7 346.7L453.5 346L454.2 346.5M465.8 353.8L463.7 350.4M464 351.7L463.7 350.4L464.9 351.4M476.8 359.8L474.2 350.1M473.7 353.5L474.2 350.1L476.4 353.1M443.8 333.4L443.2 332.3M443.3 332.7L443.2 332.3L443.6 332.6M454.8 339.3L454 337.7M454.1 338.3L454 337.7L454.5 338.2M465.8 345.3L465 342.7M464.9 343.7L465 342.7L465.6 343.5M476.8 351.3L477 347.6M476.3 348.8L477 347.6L477.4 348.8M454.8 330.8L454.4 329.6M454.4 330L454.4 329.6L454.7 329.9M465.8 336.8L465.5 335.2M465.4 335.7L465.5 335.2L465.8 335.7M476.8 342.7L477 340.9M476.6 341.5L477 340.9L477.2 341.6M476.8 424.5L475.3 425M475.6 425L475.3 425L475.9 424.7M487.8 430.5L484.5 432.8M485.6 432.3L484.5 432.8L485.5 431.7M476.8 416L474.3 416.2M475 416.3L474.3 416.2L475.3 415.9M487.8 422L481.6 424M483.7 423.7L481.6 424L483.5 422.9M465.8 401.5L464.4 401.2M464.7 401.4L464.4 401.2L465 401.2M476.8 407.5L473.9 407.3M474.6 407.5L473.9 407.3L475 407.2M487.8 413.5L480.9 414.9M483.3 414.9L480.9 414.9L483.1 414M465.8 393L464.3 392.5M464.6 392.7L464.3 392.5L464.9 392.6M476.8 399L473.7 398.5M474.5 398.8L473.7 398.5L474.9 398.4M487.8 404.9L480.8 406.1M483.2 406.1L480.8 406.1L483 405.3M465.8 384.5L464.2 383.8M464.5 384.1L464.2 383.8L464.9 383.9M476.8 390.4L473.7 389.7M474.5 390.1L473.7 389.7L474.9 389.8M487.8 396.4L480.9 397.3M483.3 397.4L480.9 397.3L483.1 396.6M454.8 370L453.8 369.3M454 369.6L453.8 369.3L454.3 369.4M465.8 376L464.2 375M464.5 375.4L464.2 375L464.9 375.3M476.8 381.9L473.7 380.9M474.5 381.5L473.7 380.9L474.9 381.1M487.8 387.9L481 388.6M483.3 388.8L481 388.6L483.2 388M454.8 361.5L453.8 360.6M454 360.9L453.8 360.6L454.3 360.8M465.8 367.4L464.2 366.3M464.5 366.7L464.2 366.3L465 366.6M476.8 373.4L473.7 372M474.4 372.7L473.7 372L475 372.3M487.8 379.4L480.6 380M482.9 380.2L480.6 380L483 379.4M454.8 353L453.9 351.9M454 352.3L453.9 351.9L454.4 352.2M465.8 358.9L464.3 357.4M464.6 358L464.3 357.4L465.1 357.8M476.8 364.9L473.8 362.7M474.4 363.6L473.8 362.7L475.2 363.2M487.8 370.9L476.9 369.7M480 370.7L476.9 369.7L481.1 369.4M454.8 344.4L454 343.3M454.1 343.7L454 343.3L454.5 343.6M465.8 350.4L464.6 348.6M464.7 349.3L464.6 348.6L465.3 349.1M476.8 356.4L474.7 353.1M474.9 354.3L474.7 353.1L475.9 354M487.8 362.3L482.8 350.7M482.7 354.8L482.8 350.7L486.2 354.2M454.8 335.9L454.2 334.7M454.2 335.2L454.2 334.7L454.6 335.1M465.8 341.9L465 340.1M465 340.7L465 340.1L465.6 340.6M476.8 347.8L476 344.7M475.8 345.8L476 344.7L476.7 345.7M487.8 353.8L488.7 348.1M487.6 349.9L488.7 348.1L489.2 350.1M465.8 333.4L465.4 331.8M465.3 332.4L465.4 331.8L465.7 332.3M476.8 339.3L476.6 337.1M476.4 337.9L476.6 337.1L477 337.9M487.8 345.3L488.5 342.6M487.9 343.4L488.5 342.6L488.6 343.5M476.8 330.8L476.8 329.4M476.6 329.8L476.8 329.4L477 329.8M487.8 336.8L488.2 335.2M487.8 335.7L488.2 335.2L488.3 335.8M498.7 424.5L496.2 424.6M495.9 424.8L496.2 424.6L498.1 424.4M487.8 410L485.9 409.3M486.1 409.6L485.9 409.3L486.9 409.4M498.7 416L493.3 410.3M493.5 412.5L493.3 410.3L496.7 411.8M476.8 395.6L475.7 394.9M475.8 395.2L475.7 394.9L476.3 395.1M487.8 401.5L485.6 400.1M485.9 400.7L485.6 400.1L486.7 400.5M498.7 407.5L493.1 400.3M493.3 403L493.1 400.3L496.6 402.4M476.8 387L475.6 386.2M475.8 386.5L475.6 386.2L476.3 386.4M487.8 393L485.5 391.2M485.8 391.9L485.5 391.2L486.7 391.7M498.7 399L493.1 391.3M493.3 394.1L493.1 391.3L496.6 393.5M476.8 378.5L475.6 377.4M475.7 377.9L475.6 377.4L476.3 377.7M487.8 384.5L485.5 382.4M485.8 383.2L485.5 382.4L486.7 383M498.7 390.4L493.2 382.4M493.3 385.4L493.2 382.4L496.7 384.7M476.8 370L475.6 368.7M475.8 369.2L475.6 368.7L476.3 369.1M487.8 376L485.6 373.6M485.9 374.5L485.6 373.6L486.8 374.3M498.7 381.9L493.5 373.4M493.5 376.5L493.5 373.4L496.9 375.9M465.8 355.5L465.1 354.5M465.2 354.9L465.1 354.5L465.5 354.8M476.8 361.5L475.8 360M475.8 360.5L475.8 360L476.4 360.4M487.8 367.4L486 364.7M486.1 365.7L486 364.7L487.1 365.5M498.7 373.4L495.4 363.8M494.7 367.2L495.4 363.8L498.3 366.8M465.8 347L465.2 345.9M465.2 346.3L465.2 345.9L465.6 346.2M476.8 353L476 351.3M476 351.9L476 351.3L476.5 351.8M487.8 358.9L486.7 355.8M486.5 356.9L486.7 355.8L487.5 356.8M498.7 364.9L499.9 356.1M498.1 359L499.9 356.1L500.9 359.1M465.8 338.5L465.3 337.3M465.3 337.7L465.3 337.3L465.7 337.7M476.8 344.4L476.3 342.7M476.2 343.3L476.3 342.7L476.7 343.2M487.8 350.4L487.5 347.4M487.1 348.4L487.5 347.4L488 348.4M498.7 356.4L500.8 350.9M499.4 352.6L500.8 350.9L500.9 352.9M476.8 335.9L476.5 334.3M476.4 334.9L476.5 334.3L476.8 334.8M487.8 341.9L487.9 339.5M487.5 340.3L487.9 339.5L488.2 340.3M498.7 347.8L500.1 344.7M499.3 345.6L500.1 344.7L500.1 345.9M476.8 327.4L476.7 326.1M476.5 326.5L476.7 326.1L476.9 326.5M487.8 333.4L488 331.7M487.7 332.2L488 331.7L488.1 332.2M498.7 339.3L499.6 337.4M499 338L499.6 337.4L499.5 338.1M498.7 330.8L499.2 329.6M498.9 329.9L499.2 329.6L499.2 330M509.7 418.6L511 418.5M510.2 418.4L511 418.5L510.9 418.6M509.7 410L511.7 408.7M510.5 409L511.7 408.7L511.6 409.3M498.7 395.6L498.7 394.3M498.3 394.7L498.7 394.3L499.1 394.7M509.7 401.5L512 399.4M510.7 400L512 399.4L511.8 400.3M498.7 387L498.7 385.4M498.3 385.9L498.7 385.4L499.1 385.9M509.7 393L512.2 390.5M510.8 391.2L512.2 390.5L512 391.5M498.7 378.5L498.8 376.6M498.3 377.2L498.8 376.6L499.2 377.3M509.7 384.5L512.3 381.6M510.8 382.4L512.3 381.6L512.1 382.7M487.8 364L487.4 362.7M487.3 363.2L487.4 362.7L487.8 363.1M498.7 370L498.8 367.9M498.4 368.6L498.8 367.9L499.2 368.6M509.7 376L512.4 372.8M510.9 373.7L512.4 372.8L512.1 374M487.8 355.5L487.5 354.1M487.3 354.6L487.5 354.1L487.9 354.5M498.7 361.5L499 359.2M498.5 359.9L499 359.2L499.3 360M509.7 367.4L512.4 364M510.9 365L512.4 364L512.1 365.3M487.8 347L487.6 345.5M487.4 346L487.6 345.5L487.9 346M498.7 353L499.1 350.7M498.6 351.4L499.1 350.7L499.4 351.4M509.7 358.9L512 355.8M510.8 356.7L512 355.8L511.7 356.9M487.8 338.5L487.7 337M487.5 337.5L487.7 337L488 337.5M498.7 344.4L499.2 342.4M498.8 343L499.2 342.4L499.4 343.1M509.7 350.4L511.4 347.9M510.5 348.6L511.4 347.9L511.2 348.8M487.8 329.9L487.8 328.7M487.6 329.1L487.8 328.7L488 329.1M498.7 335.9L499.2 334.3M498.8 334.8L499.2 334.3L499.3 334.8M509.7 341.9L510.9 340M510.3 340.6L510.9 340L510.7 340.7M498.7 327.4L499.1 326.1M498.8 326.5L499.1 326.1L499.2 326.6M509.7 333.4L510.5 332M510.1 332.4L510.5 332L510.4 332.5M520.7 404.1L522 403.6M521.3 403.7L522 403.6L521.8 403.9M520.7 395.6L522.2 394.8M521.5 394.9L522.2 394.8L522 395.1M520.7 387L522.4 386M521.5 386.2L522.4 386L522.1 386.4M509.7 372.5L510.4 371.3M509.9 371.7L510.4 371.3L510.4 371.8M520.7 378.5L522.4 377.2M521.6 377.5L522.4 377.2L522.1 377.8M509.7 364L510.4 362.7M509.9 363.1L510.4 362.7L510.5 363.2M520.7 370L522.5 368.5M521.6 368.9L522.5 368.5L522.2 369.1M509.7 355.5L510.4 354.1M509.9 354.5L510.4 354.1L510.5 354.6M520.7 361.5L522.4 359.9M521.6 360.3L522.4 359.9L522.1 360.5M509.7 347L510.4 345.5M510 346L510.4 345.5L510.4 346.1M520.7 353L522.2 351.4M521.4 351.8L522.2 351.4L521.9 352M509.7 338.5L510.3 337.1M509.9 337.5L510.3 337.1L510.3 337.6M520.7 344.4L521.9 343M521.3 343.4L521.9 343L521.7 343.6M509.7 329.9L510.2 328.8M509.9 329.2L510.2 328.8L510.2 329.2M520.7 335.9L521.6 334.7M521.1 335.1L521.6 334.7L521.4 335.2" fill="none" stroke="#0072BD" stroke-width="0.8" stroke-linejoin="round"/>
<path d="M502.1 429.2L502.1 427.3L502.1 426.2L502.1 425L502.1 423.8L502.1 422.6L502.1 421.4L502.1 420.3L502.1 419.1L502.1 417.9L502.1 416.7L502.1 415.6L502.1 414.4L502.1 413.2L502.1 412L502.1 410.8L502.1 409.7L502.1 408.5L502.1 407.3L502.1 406.1L502.1 405L502.1 403.8L502.1 402.6L502.1 401.4L502.1 400.2L502.1 399.1L502.1 397.9L502.1 396.7L502.1 395.5L502.1 394.4L502.1 393.2L502.1 392L502.1 390.8L502.1 389.7L502.1 388.5L502.1 387.3L502.1 386.1L502.1 384.9L502.1 383.8L502.1 382.6L502.1 381.4L502 379.3L501.6 377.2L501.1 375.4L500.3 373.7L499.3 372.1L498.1 370.7L496.7 369.6L495.1 368.6L493.3 367.8L491.4 367.3L489.3 366.9L487 366.7L484.6 366.8L482.1 367.1L479.5 367.6L476.8 368.3L474 369.2L471.2 370.3L468.4 371.6L465.5 373L462.6 374.7L459.8 376.5L457 378.5L454.2 380.6L451.5 382.8L448.9 385.2L446.4 387.6L444 390.1L441.7 392.7L439.6 395.4L437.7 398.1L435.9 400.8L434.3 403.5L432.9 406.2L431.7 408.9L430.7 411.5L429.9 414L429.4 416.5L429 418.9L428.9 421.2L428.9 422.4L428.9 423.5L428.9 424.7L428.9 425.9L428.9 427.1L428.9 428.3L428.9 429.4L428.9 430.6L428.9 431.8L428.9 433L428.9 434.1L428.9 435.3L428.9 436.5L428.9 437.7L428.9 438.9L428.9 440L428.9 441.2L428.9 442.4L428.9 443.6L428.9 444.7L428.9 445.9L428.9 447.1L428.9 448.3L428.9 449.4L428.9 450.6L428.9 451.8L428.9 453L428.9 454.2L428.9 455.3L428.9 456.5L428.9 457.7L428.9 458.9L428.9 460L428.9 461.2L428.9 462.4L428.9 463.6L428.9 464.8L428.9 465.9L428.9 467.1L428.9 469" fill="none" stroke="#D95319" stroke-width="5.8" stroke-linejoin="round"/>
<path d="M465 445.5h1M443 425.5h1M454 431.5h1M465 437.5h1M432 410.5h1M443 416.5h1M454 422.5h1M465 428.5h1M421 396.5h1M432 402.5h1M443 408.5h1M454 414.5h1M465 420.5h1M465 425.5h1M476 431.5h1M443 404.5h1M454 410.5h1M465 416.5h1M476 422.5h1M432 390.5h1M443 396.5h1M454 402.5h1M465 408.5h1M476 414.5h1M443 393.5h1M454 398.5h1M465 404.5h1M476 410.5h1M487 416.5h1M443 384.5h1M454 390.5h1M465 396.5h1M476 402.5h1M487 408.5h1M454 387.5h1M465 384.5h1M476 390.5h1M487 396.5h1M498 402.5h1" fill="none" stroke="#0072BD" stroke-width="1.0" stroke-opacity="0.42"/>
<path d="M454 508.5h1M465 514.5h1M465 505.5h1M465 496.5h1M465 488.5h1M465 479.5h1M454 465.5h1M465 471.5h1M454 456.5h1M465 462.5h1M443 442.5h1M454 448.5h1M465 454.5h1M432 427.5h1M443 433.5h1M454 439.5h1M421 413.5h1M432 419.5h1M421 404.5h1M410 390.5h1M476 508.5h1M476 499.5h1M476 491.5h1M476 473.5h1M476 465.5h1M476 456.5h1M465 442.5h1M476 448.5h1M443 422.5h1M454 427.5h1M465 433.5h1M476 439.5h1M432 407.5h1M443 413.5h1M454 419.5h1M432 398.5h1M421 384.5h1M487 502.5h1M487 442.5h1M476 427.5h1M487 433.5h1M443 401.5h1M454 407.5h1M465 413.5h1M476 419.5h1M487 425.5h1M498 496.5h1M498 427.5h1M487 413.5h1M498 419.5h1M465 393.5h1M476 398.5h1M487 404.5h1M498 410.5h1M454 378.5h1M509 413.5h1M498 398.5h1M509 404.5h1M465 372.5h1M476 378.5h1M487 384.5h1M498 390.5h1M509 396.5h1M520 398.5h1M509 384.5h1M520 390.5h1M531 393.5h1M520 378.5h1M531 384.5h1M542 378.5h1M553 372.5h1M564 366.5h1M575 360.5h1M586 448.5h1M586 363.5h1M575 348.5h1M586 354.5h1" fill="none" stroke="#0072BD" stroke-width="1.0" stroke-opacity="0.58"/>
<path d="M443 502.5h1M443 493.5h1M454 499.5h1M443 485.5h1M454 491.5h1M443 476.5h1M454 482.5h1M443 468.5h1M454 473.5h1M443 459.5h1M432 445.5h1M443 450.5h1M432 436.5h1M421 422.5h1M410 407.5h1M410 398.5h1M454 496.5h1M465 502.5h1M465 493.5h1M465 485.5h1M465 476.5h1M476 482.5h1M465 468.5h1M465 459.5h1M454 445.5h1M465 450.5h1M443 430.5h1M454 436.5h1M432 416.5h1M421 393.5h1M476 496.5h1M476 487.5h1M487 493.5h1M476 479.5h1M487 485.5h1M476 470.5h1M487 476.5h1M476 462.5h1M487 468.5h1M476 453.5h1M487 459.5h1M476 445.5h1M487 450.5h1M476 436.5h1M454 416.5h1M465 422.5h1M432 378.5h1M487 490.5h1M487 481.5h1M498 487.5h1M498 479.5h1M498 470.5h1M498 462.5h1M498 453.5h1M498 445.5h1M487 430.5h1M498 436.5h1M487 422.5h1M454 395.5h1M465 401.5h1M476 407.5h1M443 372.5h1M498 484.5h1M509 490.5h1M498 475.5h1M509 481.5h1M509 473.5h1M509 464.5h1M509 456.5h1M509 447.5h1M509 439.5h1M509 430.5h1M498 416.5h1M509 422.5h1M498 407.5h1M465 381.5h1M476 387.5h1M487 393.5h1M465 454.5h1M498 472.5h1M509 478.5h1M520 484.5h1M465 445.5h1M509 469.5h1M520 475.5h1M465 437.5h1M520 467.5h1M465 428.5h1M520 458.5h1M465 420.5h1M520 450.5h1M465 411.5h1M520 441.5h1M520 433.5h1M520 424.5h1M520 416.5h1M509 401.5h1M520 407.5h1M498 387.5h1M509 393.5h1M487 372.5h1M498 378.5h1M509 466.5h1M520 472.5h1M531 478.5h1M520 463.5h1M531 469.5h1M476 431.5h1M531 461.5h1M476 422.5h1M531 452.5h1M476 414.5h1M531 444.5h1M476 405.5h1M531 435.5h1M531 427.5h1M531 418.5h1M531 410.5h1M531 401.5h1M520 387.5h1M509 372.5h1M531 466.5h1M542 472.5h1M531 457.5h1M542 463.5h1M542 455.5h1M542 446.5h1M542 438.5h1M542 412.5h1M542 404.5h1M542 395.5h1M531 381.5h1M542 387.5h1M520 366.5h1M531 372.5h1M542 460.5h1M553 466.5h1M553 457.5h1M553 449.5h1M553 440.5h1M553 398.5h1M553 389.5h1M542 375.5h1M553 381.5h1M531 360.5h1M542 366.5h1M553 454.5h1M564 460.5h1M564 451.5h1M564 443.5h1M564 434.5h1M564 400.5h1M564 392.5h1M564 383.5h1M553 369.5h1M564 375.5h1M542 354.5h1M553 360.5h1M564 448.5h1M575 454.5h1M575 445.5h1M575 437.5h1M575 428.5h1M575 420.5h1M575 411.5h1M575 403.5h1M575 394.5h1M575 386.5h1M564 371.5h1M575 377.5h1M564 363.5h1M575 369.5h1M542 342.5h1M553 348.5h1M564 354.5h1M564 436.5h1M575 442.5h1M575 433.5h1M586 439.5h1M586 431.5h1M586 422.5h1M586 414.5h1M586 405.5h1M586 397.5h1M586 388.5h1M575 374.5h1M586 380.5h1M575 365.5h1M586 371.5h1M564 351.5h1M575 357.5h1M531 324.5h1M542 330.5h1M553 336.5h1M564 342.5h1" fill="none" stroke="#0072BD" stroke-width="1.0" stroke-opacity="0.72"/>
<path d="M432 496.5h1M432 487.5h1M432 479.5h1M432 470.5h1M432 462.5h1M432 453.5h1M421 430.5h1M454 487.5h1M454 479.5h1M454 470.5h1M454 462.5h1M454 453.5h1M443 439.5h1M421 401.5h1M465 490.5h1M465 481.5h1M465 447.5h1M465 439.5h1M465 430.5h1M443 410.5h1M432 387.5h1M476 484.5h1M476 475.5h1M487 473.5h1M487 464.5h1M487 456.5h1M487 447.5h1M487 439.5h1M476 424.5h1M476 416.5h1M443 389.5h1M443 381.5h1M476 472.5h1M487 478.5h1M487 469.5h1M498 467.5h1M498 458.5h1M498 450.5h1M498 441.5h1M498 433.5h1M498 424.5h1M487 410.5h1M487 401.5h1M454 366.5h1M476 460.5h1M487 466.5h1M476 451.5h1M487 457.5h1M498 463.5h1M498 455.5h1M509 461.5h1M498 446.5h1M509 452.5h1M509 444.5h1M509 435.5h1M465 403.5h1M509 427.5h1M509 418.5h1M509 410.5h1M498 395.5h1M487 381.5h1M476 366.5h1M476 448.5h1M487 454.5h1M498 460.5h1M476 439.5h1M487 445.5h1M498 451.5h1M509 457.5h1M487 437.5h1M509 449.5h1M520 455.5h1M487 428.5h1M509 440.5h1M520 446.5h1M487 420.5h1M520 438.5h1M520 429.5h1M476 397.5h1M520 421.5h1M520 412.5h1M520 404.5h1M520 395.5h1M509 381.5h1M498 366.5h1M509 454.5h1M520 460.5h1M520 451.5h1M531 449.5h1M531 440.5h1M531 432.5h1M531 423.5h1M542 429.5h1M531 415.5h1M542 421.5h1M531 406.5h1M531 398.5h1M531 389.5h1M520 375.5h1M509 360.5h1M531 454.5h1M542 451.5h1M542 443.5h1M542 434.5h1M542 426.5h1M553 432.5h1M553 423.5h1M553 415.5h1M553 406.5h1M542 392.5h1M542 383.5h1M531 369.5h1M520 354.5h1M542 448.5h1M553 445.5h1M553 437.5h1M553 428.5h1M564 426.5h1M564 417.5h1M564 409.5h1M553 394.5h1M553 386.5h1M553 377.5h1M542 363.5h1M531 348.5h1M553 442.5h1M564 439.5h1M564 431.5h1M564 422.5h1M564 414.5h1M564 405.5h1M564 397.5h1M564 388.5h1M564 380.5h1M553 365.5h1M542 351.5h1M553 357.5h1M520 330.5h1M531 336.5h1M553 430.5h1M564 427.5h1M564 419.5h1M575 425.5h1M575 416.5h1M575 408.5h1M575 399.5h1M575 391.5h1M575 382.5h1M564 368.5h1M564 359.5h1M531 333.5h1M542 339.5h1M553 345.5h1" fill="none" stroke="#0072BD" stroke-width="1.0" stroke-opacity="0.85"/>
<path d="M410.9 484.2L410 485.6M410.5 485.2L410 485.6L410.1 485.1M421.9 490.2L421.5 491.4M421.8 491L421.5 491.4L421.5 491M410.9 475.7L409.6 477.3M410.3 476.9L409.6 477.3L409.8 476.7M421.9 481.6L421.4 483.1M421.8 482.6L421.4 483.1L421.4 482.6M410.9 467.2L409.4 468.8M410.1 468.4L409.4 468.8L409.6 468.2M421.9 473.1L421.3 474.6M421.7 474.2L421.3 474.6L421.3 474.1M410.9 458.6L409.2 460.3M410.1 459.8L409.2 460.3L409.5 459.6M421.9 464.6L421.3 466.1M421.7 465.6L421.3 466.1L421.2 465.6M410.9 450.1L409.2 451.6M410 451.2L409.2 451.6L409.5 451M421.9 456.1L421.2 457.5M421.7 457.1L421.2 457.5L421.2 457M410.9 441.6L409.1 442.9M410 442.6L409.1 442.9L409.4 442.4M421.9 447.6L421.2 448.8M421.7 448.5L421.2 448.8L421.1 448.4M410.9 433.1L409.2 434.1M410 433.9L409.2 434.1L409.5 433.7M421.9 439L421.2 440.1M421.7 439.8L421.2 440.1L421.1 439.7M410.9 424.6L409.4 425.2M410.2 425.1L409.4 425.2L409.7 424.9M410.9 416L409.7 416.4M410.3 416.3L409.7 416.4L409.9 416.2M421.9 478.2L420.6 481.1M421.4 480.2L420.6 481.1L420.7 480M432.9 484.2L432.8 486.1M433.1 485.5L432.8 486.1L432.6 485.4M443.8 490.2L444 491.4M444.1 491L444 491.4L443.8 491M421.9 469.7L419.9 473.2M421.1 472.2L419.9 473.2L420 471.9M432.9 475.7L432.9 477.9M433.2 477.2L432.9 477.9L432.5 477.2M443.8 481.6L444.1 483M444.2 482.6L444.1 483L443.8 482.6M421.9 461.2L419.6 464.7M420.9 463.7L419.6 464.7L419.8 463.4M432.9 467.2L432.9 469.5M433.3 468.7L432.9 469.5L432.5 468.7M443.8 473.1L444.2 474.6M444.3 474.1L444.2 474.6L443.9 474.1M421.9 452.7L419.4 456M420.8 455.1L419.4 456L419.6 454.8M432.9 458.6L432.9 460.9M433.3 460.2L432.9 460.9L432.5 460.2M443.8 464.6L444.2 466.1M444.3 465.6L444.2 466.1L443.9 465.6M421.9 444.2L419.3 447.4M420.8 446.5L419.3 447.4L419.5 446.2M432.9 450.1L432.8 452.3M433.3 451.6L432.8 452.3L432.4 451.6M443.8 456.1L444.2 457.5M444.3 457L444.2 457.5L443.8 457M421.9 435.6L419.2 438.6M420.7 437.8L419.2 438.6L419.5 437.5M432.9 441.6L432.8 443.6M433.2 443L432.8 443.6L432.4 443M443.8 447.6L444.2 448.9M444.3 448.4L444.2 448.9L443.8 448.5M421.9 427.1L419.2 429.5M420.7 428.8L419.2 429.5L419.5 428.5M432.9 433.1L432.6 434.8M433.1 434.3L432.6 434.8L432.3 434.2M421.9 418.6L419.6 419.9M420.8 419.6L419.6 419.9L419.9 419.3M432.9 424.6L432.5 425.8M433 425.4L432.5 425.8L432.2 425.4M421.9 410.1L420.2 410.6M421.1 410.5L420.2 410.6L420.4 410.3M432.9 472.3L435.4 480.3M435.7 477.4L435.4 480.3L433.5 477.8M443.8 478.2L444.9 480.5M444.9 479.7L444.9 480.5L444.3 479.8M454.8 484.2L455.4 485.5M455.4 485L455.4 485.5L455 485.1M432.9 463.7L438.3 473.5M438.1 470L438.3 473.5L434.9 470.6M443.8 469.7L445.7 472.4M445.5 471.4L445.7 472.4L444.7 471.7M454.8 475.7L455.7 477.1M455.6 476.6L455.7 477.1L455.2 476.7M432.9 455.2L438.5 464.4M438.3 461.1L438.5 464.4L435 461.7M443.8 461.2L446 463.9M445.7 462.9L446 463.9L444.9 463.2M454.8 467.2L455.9 468.7M455.8 468.1L455.9 468.7L455.3 468.2M465.8 473.1L466.5 474.1M466.4 473.8L466.5 474.1L466.1 473.9M432.9 446.7L438.5 455.6M438.3 452.4L438.5 455.6L435 453M443.8 452.7L446.1 455.3M445.8 454.3L446.1 455.3L444.9 454.6M454.8 458.6L456 460.1M455.8 459.6L456 460.1L455.3 459.7M465.8 464.6L466.5 465.6M466.4 465.2L466.5 465.6L466.1 465.3M432.9 438.2L438.4 447M438.3 443.7L438.4 447L434.9 444.4M443.8 444.2L446.1 446.7M445.8 445.7L446.1 446.7L444.9 446M454.8 450.1L456 451.6M455.9 451L456 451.6L455.3 451.2M465.8 456.1L466.5 457.1M466.5 456.7L466.5 457.1L466.1 456.8M432.9 429.7L438.1 438.3M438.1 435.2L438.1 438.3L434.7 435.8M443.8 435.6L446 438.1M445.7 437.2L446 438.1L444.8 437.4M454.8 441.6L456 443M455.8 442.5L456 443L455.3 442.6M432.9 421.1L436.2 429.1M436.9 426.3L436.2 429.1L433.3 426.7M443.8 427.1L445.6 429.4M445.5 428.6L445.6 429.4L444.5 428.8M454.8 433.1L455.8 434.4M455.8 433.9L455.8 434.4L455.2 434M432.9 412.6L431.7 416.9M433.5 415.6L431.7 416.9L430.7 415.4M443.8 418.6L444.9 420.5M445.1 419.8L444.9 420.5L444.1 419.9M454.8 424.6L455.6 425.6M455.6 425.2L455.6 425.6L455.1 425.3M432.9 404.1L430.8 405.1M432.2 404.9L430.8 405.1L430.7 404.6M432.9 395.6L431.5 395.5M432.3 395.6L431.5 395.5L431.5 395.4M443.8 466.3L447.1 468.2M446 467.3L447.1 468.2L446.1 467.8M454.8 472.3L456.3 473.8M456 473.2L456.3 473.8L455.7 473.4M465.8 478.2L466.6 479.3M466.5 478.9L466.6 479.3L466.2 479M443.8 457.8L450 458.7M447.9 458L450 458.7L448.1 458.8M454.8 463.7L457.3 465.4M456.6 464.7L457.3 465.4L456.3 465M465.8 469.7L467 470.9M466.7 470.4L467 470.9L466.4 470.6M443.8 449.3L450.7 449.6M448.3 449.1L450.7 449.6L448.5 449.9M454.8 455.2L457.7 456.8M457 456.1L457.7 456.8L456.6 456.4M465.8 461.2L467.2 462.4M466.9 461.9L467.2 462.4L466.6 462.1M476.8 467.2L477.6 468.1M477.5 467.7L477.6 468.1L477.2 467.8M443.8 440.7L450.8 440.8M448.4 440.4L450.8 440.8L448.6 441.2M454.8 446.7L457.9 448.1M457.1 447.5L457.9 448.1L456.7 447.9M465.8 452.7L467.3 453.9M467 453.4L467.3 453.9L466.7 453.6M476.8 458.6L477.7 459.6M477.6 459.2L477.7 459.6L477.3 459.3M443.8 432.2L450.7 432.2M448.3 431.8L450.7 432.2L448.5 432.6M454.8 438.2L457.9 439.6M457.1 438.9L457.9 439.6L456.7 439.3M465.8 444.2L467.4 445.3M467.1 444.8L467.4 445.3L466.7 445M476.8 450.1L477.8 451M477.6 450.7L477.8 451L477.3 450.8M443.8 423.7L450.6 423.8M448.3 423.3L450.6 423.8L448.4 424.1M454.8 429.7L457.9 431.1M457.1 430.4L457.9 431.1L456.7 430.8M465.8 435.6L467.4 436.8M467.1 436.3L467.4 436.8L466.7 436.5M476.8 441.6L477.8 442.5M477.6 442.1L477.8 442.5L477.3 442.2M443.8 415.2L451 416.1M448.7 415.4L451 416.1L448.6 416.2M454.8 421.1L457.9 422.8M457.2 422.1L457.9 422.8L456.6 422.4M465.8 427.1L467.4 428.3M467.1 427.8L467.4 428.3L466.6 428M476.8 433.1L477.8 433.9M477.6 433.6L477.8 433.9L477.3 433.7M443.8 406.7L454.7 410.7M451.6 408.7L454.7 410.7L450.5 410M454.8 412.6L457.8 414.5M457.2 413.7L457.8 414.5L456.4 414.1M465.8 418.6L467.3 419.7M467 419.2L467.3 419.7L466.5 419.4M443.8 398.1L448.8 402.3M448.9 400.6L448.8 402.3L445.4 401.3M454.8 404.1L456.9 405.6M456.7 405L456.9 405.6L455.7 405.2M465.8 410.1L467 410.9M466.9 410.5L467 410.9L466.3 410.7M454.8 460.3L455.9 461.1M455.4 460.8L455.9 461.1L455.6 461M465.8 466.3L466.8 467.3M466.5 466.9L466.8 467.3L466.4 467M454.8 451.8L456.5 452.4M455.8 452L456.5 452.4L456 452.3M465.8 457.8L467.3 458.7M466.8 458.3L467.3 458.7L466.7 458.5M476.8 463.7L477.8 464.7M477.6 464.3L477.8 464.7L477.4 464.5M454.8 443.3L456.8 443.6M456 443.3L456.8 443.6L456.2 443.6M465.8 449.3L467.5 450.1M467 449.7L467.5 450.1L466.9 450M476.8 455.2L478 456.2M477.7 455.8L478 456.2L477.5 455.9M487.8 461.2L488.6 462M488.5 461.7L488.6 462L488.2 461.8M454.8 434.8L456.9 434.9M456.1 434.7L456.9 434.9L456.3 435M465.8 440.7L467.7 441.5M467.1 441.1L467.7 441.5L467 441.4M476.8 446.7L478.1 447.6M477.8 447.2L478.1 447.6L477.6 447.4M487.8 452.7L488.7 453.5M488.5 453.2L488.7 453.5L488.3 453.3M454.8 426.3L456.9 426.3M456.1 426.2L456.9 426.3L456.3 426.4M465.8 432.2L467.8 433M467.2 432.6L467.8 433L467 432.8M476.8 438.2L478.2 439.1M477.9 438.7L478.2 439.1L477.6 438.9M487.8 444.2L488.8 445M488.6 444.6L488.8 445L488.3 444.8M454.8 417.7L456.9 417.9M456.1 417.7L456.9 417.9L456.2 417.9M465.8 423.7L467.8 424.5M467.3 424.1L467.8 424.5L467.1 424.4M476.8 429.7L478.3 430.6M477.9 430.2L478.3 430.6L477.6 430.4M487.8 435.6L488.9 436.4M488.6 436.1L488.9 436.4L488.4 436.2M454.8 409.2L457.1 409.7M456.3 409.4L457.1 409.7L456.4 409.7M465.8 415.2L468 416.2M467.4 415.7L468 416.2L467.1 416M476.8 421.1L478.4 422.1M478 421.7L478.4 422.1L477.7 421.9M487.8 427.1L488.9 427.9M488.7 427.6L488.9 427.9L488.4 427.7M454.8 400.7L458.3 402.2M457.2 401.4L458.3 402.2L457.1 401.9M465.8 406.7L468.5 408.1M467.9 407.5L468.5 408.1L467.4 407.8M476.8 412.6L478.5 413.6M478.1 413.2L478.5 413.6L477.7 413.4M487.8 418.6L488.9 419.3M488.7 419L488.9 419.3L488.4 419.1M454.8 392.2L464.4 397.7M461.9 395.3L464.4 397.7L460.5 396.5M465.8 398.1L468.9 399.8M468.3 399.1L468.9 399.8L467.5 399.4M476.8 404.1L478.4 404.9M478.1 404.6L478.4 404.9L477.6 404.8M454.8 383.6L457.4 383M457.9 383L457.4 383L455.2 383.4M465.8 389.6L467.9 390.2M467.6 389.8L467.9 390.2L466.7 390.1M476.8 395.6L478.1 396M477.9 395.8L478.1 396L477.4 395.9M454.8 375.1L454.6 373.7M455.3 374.2L454.6 373.7L454.2 374.1M476.8 443.3L477.7 444.1M477.5 443.7L477.7 444.1L477.3 443.9M487.8 449.3L488.7 450.1M488.5 449.8L488.7 450.1L488.3 449.9M476.8 434.8L477.8 435.5M477.5 435.2L477.8 435.5L477.4 435.3M487.8 440.7L488.8 441.6M488.6 441.2L488.8 441.6L488.3 441.4M476.8 426.3L477.9 427M477.6 426.7L477.9 427L477.4 426.8M487.8 432.2L488.9 433M488.6 432.7L488.9 433L488.4 432.8M498.7 438.2L499.8 438.9M499.5 438.6L499.8 438.9L499.3 438.7M476.8 417.7L478 418.5M477.7 418.2L478 418.5L477.5 418.3M487.8 423.7L489 424.5M488.7 424.2L489 424.5L488.5 424.3M498.7 429.7L499.8 430.4M499.6 430.1L499.8 430.4L499.4 430.2M476.8 409.2L478.2 410.2M477.9 409.8L478.2 410.2L477.6 409.9M487.8 415.2L489.2 416.1M488.9 415.7L489.2 416.1L488.6 415.9M498.7 421.1L499.9 421.9M499.7 421.5L499.9 421.9L499.4 421.7M465.8 394.7L467.2 396.1M466.9 395.5L467.2 396.1L466.6 395.8M476.8 400.7L478.8 402M478.3 401.5L478.8 402L477.9 401.7M487.8 406.7L489.4 407.6M489.1 407.2L489.4 407.6L488.7 407.4M498.7 412.6L500 413.3M499.7 413L500 413.3L499.4 413.1M465.8 386.2L470.2 390.4M469.2 388.7L470.2 390.4L468.3 389.3M476.8 392.2L479.8 393.8M479.1 393.1L479.8 393.8L478.5 393.5M487.8 398.1L489.6 398.9M489.2 398.6L489.6 398.9L488.8 398.8M498.7 404.1L500 404.6M499.7 404.4L500 404.6L499.4 404.5M465.8 377.7L474.6 378.3M473.1 377.4L474.6 378.3L470.3 378.7M476.8 383.6L479.8 384.3M479.2 383.9L479.8 384.3L478.4 384.3M487.8 389.6L489.4 390M489.1 389.7L489.4 390L488.6 390M465.8 369.2L466.6 366.9M467 367.5L466.6 366.9L465.8 367.8M476.8 375.1L478.2 374.6M478.1 374.6L478.2 374.6L477.4 374.9M465.8 360.6L466 359.3M466.2 359.7L466 359.3L465.6 359.8M498.7 443.3L499.5 444.2M499.4 443.9L499.5 444.2L499.1 444M498.7 434.8L499.6 435.7M499.5 435.3L499.6 435.7L499.2 435.4M498.7 426.3L499.8 427.1M499.5 426.8L499.8 427.1L499.3 426.9M509.7 432.2L510.7 433M510.5 432.7L510.7 433L510.3 432.8M487.8 411.8L488.6 412.7M488.5 412.4L488.6 412.7L488.2 412.5M498.7 417.7L499.9 418.6M499.7 418.3L499.9 418.6L499.4 418.4M509.7 423.7L510.8 424.4M510.6 424.1L510.8 424.4L510.4 424.2M487.8 403.2L488.9 404.4M488.7 403.9L488.9 404.4L488.3 404.1M498.7 409.2L500.1 410.1M499.8 409.7L500.1 410.1L499.5 409.9M509.7 415.2L511 415.9M510.7 415.6L511 415.9L510.4 415.7M476.8 388.8L477.4 390.6M477.4 389.9L477.4 390.6L476.9 390M487.8 394.7L489.5 396.2M489.2 395.6L489.5 396.2L488.7 395.8M498.7 400.7L500.4 401.6M500.1 401.2L500.4 401.6L499.7 401.4M509.7 406.7L511.1 407.2M510.8 407L511.1 407.2L510.5 407.1M476.8 380.2L479.9 385.1M479.5 383.2L479.9 385.1L478.3 383.7M487.8 386.2L490.8 387.9M490.1 387.1L490.8 387.9L489.5 387.5M498.7 392.2L500.8 392.9M500.3 392.5L500.8 392.9L499.9 392.8M509.7 398.1L511.1 398.6M510.8 398.3L511.1 398.6L510.5 398.5M476.8 371.7L487.5 371.2M485.1 370.6L487.5 371.2L482.8 372.2M487.8 377.7L491.2 378M490.5 377.7L491.2 378L489.7 378.1M498.7 383.6L500.7 383.9M500.2 383.7L500.7 383.9L499.8 383.9M509.7 389.6L511 389.8M510.7 389.6L511 389.8L510.4 389.8M476.8 363.2L478.5 360.5M478.2 361.1L478.5 360.5L477.7 361.7M487.8 369.2L489.7 368.3M489.3 368.4L489.7 368.3L488.8 368.8M498.7 375.1L500.1 374.9M499.8 374.8L500.1 374.9L499.5 375.1M476.8 354.7L477.3 353.2M477.2 353.5L477.3 353.2L477 353.8M487.8 360.6L488.6 359.8M488.5 360L488.6 359.8L488.2 360.2M487.8 442.4L487.4 444M487.8 443.5L487.4 444L487.3 443.4M498.7 448.4L499.1 449.7M499.2 449.2L499.1 449.7L498.8 449.3M487.8 433.9L487.1 435.7M487.6 435.1L487.1 435.7L487.1 435.1M498.7 439.9L499.2 441.4M499.3 440.8L499.2 441.4L498.8 440.9M509.7 445.8L510.5 446.9M510.4 446.5L510.5 446.9L510.1 446.6M487.8 425.4L487 427.1M487.5 426.6L487 427.1L487 426.5M498.7 431.4L499.3 432.9M499.3 432.3L499.3 432.9L498.9 432.4M509.7 437.3L510.6 438.4M510.5 438L510.6 438.4L510.2 438.1M520.7 443.3L521.6 444.1M521.4 443.8L521.6 444.1L521.2 443.9M487.8 416.9L487 418.5M487.5 418L487 418.5L487 417.9M498.7 422.8L499.4 424.3M499.4 423.8L499.4 424.3L498.9 423.9M509.7 428.8L510.8 429.9M510.6 429.5L510.8 429.9L510.3 429.6M520.7 434.8L521.7 435.6M521.5 435.2L521.7 435.6L521.3 435.4M487.8 408.3L487.1 409.9M487.6 409.4L487.1 409.9L487.1 409.3M498.7 414.3L499.5 415.7M499.5 415.2L499.5 415.7L499 415.3M509.7 420.3L510.9 421.3M510.7 420.9L510.9 421.3L510.4 421.1M520.7 426.3L521.8 427M521.6 426.7L521.8 427L521.3 426.8M487.8 399.8L487.2 401.4M487.6 400.9L487.2 401.4L487.2 400.8M498.7 405.8L499.7 407.2M499.6 406.7L499.7 407.2L499.1 406.8M509.7 411.8L511.1 412.8M510.8 412.4L511.1 412.8L510.5 412.5M520.7 417.7L522 418.4M521.7 418.1L522 418.4L521.4 418.3M487.8 391.3L487.5 393.2M487.8 392.6L487.5 393.2L487.3 392.5M498.7 397.3L500.1 398.8M499.9 398.2L500.1 398.8L499.4 398.4M509.7 403.2L511.3 404.2M511 403.8L511.3 404.2L510.6 404M520.7 409.2L522.1 409.8M521.8 409.5L522.1 409.8L521.5 409.7M487.8 382.8L488.1 386M488.4 384.9L488.1 386L487.5 384.9M498.7 388.8L501 390.5M500.5 389.8L501 390.5L499.9 390M509.7 394.7L511.7 395.6M511.2 395.2L511.7 395.6L510.8 395.4M520.7 400.7L522.2 401.2M521.8 400.9L522.2 401.2L521.6 401.1M487.8 374.3L493.8 381.7M492.9 378.9L493.8 381.7L490.7 379.7M498.7 380.2L502.4 381.6M501.5 380.9L502.4 381.6L500.9 381.4M509.7 386.2L512 386.7M511.4 386.4L512 386.7L511 386.7M520.7 392.2L522.2 392.5M521.8 392.3L522.2 392.5L521.6 392.5M487.8 365.7L496.1 361.9M493.7 362.5L496.1 361.9L492.9 363.9M498.7 371.7L502.4 371.4M501.4 371.3L502.4 371.4L500.9 371.8M509.7 377.7L511.8 377.7M511.3 377.5L511.8 377.7L510.9 377.8M520.7 383.6L522.1 383.7M521.7 383.6L522.1 383.7L521.5 383.8M487.8 357.2L489.8 354.6M489.1 355.2L489.8 354.6L489.2 355.8M498.7 363.2L500.8 362.2M500.2 362.3L500.8 362.2L500 362.7M509.7 369.2L511.2 368.8M510.8 368.8L511.2 368.8L510.6 369M487.8 348.7L488.5 347.2M488.2 347.6L488.5 347.2L488.4 347.9M498.7 354.7L499.8 353.8M499.5 353.9L499.8 353.8L499.4 354.2M498.7 436.5L498.3 440.3M499 439.1L498.3 440.3L497.9 439M509.7 442.4L510.7 444.3M510.6 443.6L510.7 444.3L510.1 443.8M520.7 448.4L521.6 449.5M521.4 449L521.6 449.5L521.2 449.2M498.7 427.9L497.8 432.8M498.8 431.3L497.8 432.8L497.3 431.1M509.7 433.9L511.1 436.2M511 435.3L511.1 436.2L510.3 435.5M520.7 439.9L521.9 441.1M521.6 440.6L521.9 441.1L521.3 440.8M531.7 445.8L532.6 446.6M532.4 446.3L532.6 446.6L532.2 446.4M498.7 419.4L497.7 424M498.8 422.6L497.7 424L497.3 422.4M509.7 425.4L511.3 427.6M511.1 426.8L511.3 427.6L510.5 427M520.7 431.4L522.1 432.6M521.8 432.1L522.1 432.6L521.5 432.3M531.7 437.3L532.8 438.1M532.5 437.8L532.8 438.1L532.3 437.9M498.7 410.9L497.8 415.3M498.8 413.9L497.8 415.3L497.3 413.8M509.7 416.9L511.5 419M511.3 418.2L511.5 419L510.6 418.4M520.7 422.8L522.3 424M521.9 423.5L522.3 424L521.6 423.7M531.7 428.8L532.9 429.6M532.6 429.2L532.9 429.6L532.4 429.4M498.7 402.4L497.9 406.5M498.9 405.2L497.9 406.5L497.4 405.1M509.7 408.3L511.7 410.4M511.4 409.6L511.7 410.4L510.7 409.8M520.7 414.3L522.4 415.4M522 415L522.4 415.4L521.7 415.2M531.7 420.3L533.1 421M532.7 420.7L533.1 421L532.5 420.8M498.7 393.9L498.2 397.9M499.1 396.6L498.2 397.9L497.6 396.5M509.7 399.8L511.9 401.7M511.5 401L511.9 401.7L510.9 401.2M520.7 405.8L522.6 406.8M522.2 406.4L522.6 406.8L521.8 406.6M531.7 411.8L533.2 412.4M532.8 412.1L533.2 412.4L532.6 412.3M542.7 417.7L543.8 418.2M543.5 418L543.8 418.2L543.3 418.1M498.7 385.3L499 390M499.7 388.4L499 390L498.1 388.5M509.7 391.3L512.5 393.1M511.9 392.4L512.5 393.1L511.2 392.7M520.7 397.3L522.8 398.1M522.3 397.7L522.8 398.1L522 398M531.7 403.2L533.3 403.8M532.8 403.5L533.3 403.8L532.6 403.7M542.7 409.2L543.8 409.6M543.5 409.4L543.8 409.6L543.4 409.5M498.7 376.8L503.6 384.1M503.2 381.4L503.6 384.1L500.8 382M509.7 382.8L513.5 384.2M512.6 383.5L513.5 384.2L511.9 384M520.7 388.8L523.1 389.3M522.5 389L523.1 389.3L522.1 389.3M531.7 394.7L533.3 395.1M532.9 394.8L533.3 395.1L532.7 395M542.7 400.7L543.8 400.9M543.5 400.8L543.8 400.9L543.4 400.9M498.7 368.3L513.3 367.2M509.1 366.6L513.3 367.2L507.9 368.5M509.7 374.3L514.1 374.5M512.9 374.1L514.1 374.5L512.4 374.7M520.7 380.2L523.1 380.4M522.5 380.2L523.1 380.4L522.2 380.5M531.7 386.2L533.3 386.3M532.8 386.2L533.3 386.3L532.6 386.4M498.7 359.8L503.5 356.1M501.8 356.9L503.5 356.1L502.1 357.8M509.7 365.7L513 364.8M512 364.9L513 364.8L511.8 365.4M520.7 371.7L522.7 371.4M522.2 371.4L522.7 371.4L522 371.7M531.7 377.7L533.1 377.6M532.7 377.5L533.1 377.6L532.5 377.7M498.7 351.3L500.5 349.1M499.8 349.6L500.5 349.1L500.1 350M509.7 357.2L511.6 356.1M511 356.3L511.6 356.1L510.9 356.7M520.7 363.2L522.1 362.7M521.7 362.7L522.1 362.7L521.6 363M498.7 342.7L499.6 341.4M499.2 341.7L499.6 341.4L499.4 342M509.7 348.7L510.7 347.8M510.4 348L510.7 347.8L510.4 348.2M509.7 430.5L517 436M515 433.6L517 436L514.2 434.7M520.7 436.5L522.8 438.2M522.2 437.5L522.8 438.2L521.9 437.8M531.7 442.4L532.9 443.4M532.6 443L532.9 443.4L532.4 443.2M509.7 422L524 426.9M519.9 424.4L524 426.9L518.7 426.2M520.7 427.9L523.9 429.9M523.1 429.1L523.9 429.9L522.6 429.5M531.7 433.9L533.3 435M532.9 434.5L533.3 435L532.7 434.7M542.7 439.9L543.8 440.5M543.5 440.3L543.8 440.5L543.3 440.4M509.7 413.5L524.8 417.6M520.4 415.3L524.8 417.6L519.2 417.1M520.7 419.4L524.5 421.3M523.5 420.4L524.5 421.3L523 420.9M531.7 425.4L533.7 426.4M533.1 426L533.7 426.4L532.9 426.2M542.7 431.4L544 432M543.6 431.7L544 432L543.5 431.9M509.7 404.9L525 408.6M520.6 406.5L525 408.6L519.4 408.3M520.7 410.9L524.8 412.6M523.7 411.8L524.8 412.6L523.2 412.3M531.7 416.9L533.9 417.8M533.3 417.4L533.9 417.8L533 417.6M542.7 422.8L544.1 423.5M543.7 423.2L544.1 423.5L543.6 423.3M509.7 396.4L525.2 399.8M520.7 397.7L525.2 399.8L519.5 399.6M520.7 402.4L525 403.8M523.8 403.1L525 403.8L523.3 403.6M531.7 408.3L534 409.2M533.4 408.8L534 409.2L533.1 409M542.7 414.3L544.2 414.9M543.8 414.6L544.2 414.9L543.6 414.8M553.6 420.3L554.8 420.7M554.5 420.5L554.8 420.7L554.3 420.6M509.7 387.9L525.6 390.8M520.9 388.9L525.6 390.8L519.8 390.8M520.7 393.9L525.1 395.1M523.9 394.4L525.1 395.1L523.4 394.9M531.7 399.8L534.2 400.5M533.5 400.1L534.2 400.5L533.2 400.4M542.7 405.8L544.3 406.2M543.9 406L544.3 406.2L543.7 406.2M553.6 411.8L554.8 412.1M554.5 411.9L554.8 412.1L554.4 412M509.7 379.4L525.9 380.4M520.9 379.1L525.9 380.4L520.2 381M520.7 385.3L525.4 386.1M524 385.6L525.4 386.1L523.6 386.1M531.7 391.3L534.2 391.7M533.5 391.4L534.2 391.7L533.3 391.8M542.7 397.3L544.4 397.6M543.9 397.4L544.4 397.6L543.7 397.6M553.6 403.2L554.9 403.5M554.5 403.3L554.9 403.5L554.4 403.5M509.7 370.9L521.7 368M517.6 368.2L521.7 368L517.9 369.7M520.7 376.8L525.3 376.8M523.9 376.5L525.3 376.8L523.6 377.1M531.7 382.8L534.2 382.9M533.5 382.7L534.2 382.9L533.3 383M542.7 388.8L544.3 388.9M543.8 388.7L544.3 388.9L543.7 388.9M509.7 362.3L515.6 359M513.4 359.7L515.6 359L513.9 360.5M520.7 368.3L524.4 367.5M523.2 367.5L524.4 367.5L523.2 368M531.7 374.3L533.9 374M533.3 374L533.9 374L533.1 374.3M542.7 380.2L544.2 380.2M543.7 380.1L544.2 380.2L543.6 380.3M509.7 353.8L512.5 351.4M511.4 352L512.5 351.4L511.8 352.4M520.7 359.8L523.2 358.7M522.3 358.9L523.2 358.7L522.4 359.2M531.7 365.7L533.5 365.3M532.9 365.3L533.5 365.3L532.8 365.6M542.7 371.7L544 371.5M543.6 371.5L544 371.5L543.5 371.7M509.7 345.3L511.1 343.7M510.5 344.1L511.1 343.7L510.8 344.4M520.7 351.3L522.2 350.3M521.7 350.5L522.2 350.3L521.7 350.7M531.7 357.2L533 356.7M532.5 356.8L533 356.7L532.5 357M509.7 336.8L510.5 335.7M510.2 336L510.5 335.7L510.4 336.1M520.7 342.7L521.6 341.9M521.3 342.1L521.6 341.9L521.3 342.3M520.7 424.5L523.4 425.2M522.3 424.8L523.4 425.2L522.7 425.2M531.7 430.5L533.6 431.3M532.9 430.9L533.6 431.3L533 431.2M542.7 436.5L543.9 437.1M543.5 436.8L543.9 437.1L543.5 437M520.7 416L525.1 416M523.4 415.7L525.1 416L523.9 416.3M531.7 422L534.5 422.7M533.6 422.3L534.5 422.7L533.5 422.7M542.7 427.9L544.3 428.6M543.8 428.3L544.3 428.6L543.7 428.5M553.6 433.9L554.8 434.4M554.4 434.2L554.8 434.4L554.4 434.3M520.7 407.5L525.8 406.9M523.9 406.8L525.8 406.9L524.4 407.4M531.7 413.5L535 414M533.9 413.6L535 414L533.9 414M542.7 419.4L544.6 420M544 419.7L544.6 420L544 419.9M553.6 425.4L555 425.8M554.6 425.6L555 425.8L554.5 425.8M520.7 399L526.1 398M524.1 398L526.1 398L524.6 398.7M531.7 404.9L535.3 405.3M534.1 405L535.3 405.3L534.1 405.4M542.7 410.9L544.9 411.4M544.2 411.1L544.9 411.4L544.1 411.4M553.6 416.9L555.1 417.3M554.7 417L555.1 417.3L554.6 417.2M520.7 390.4L526.3 389.2M524.2 389.3L526.3 389.2L524.7 390M531.7 396.4L535.5 396.6M534.2 396.3L535.5 396.6L534.2 396.7M542.7 402.4L545 402.7M544.3 402.5L545 402.7L544.2 402.7M553.6 408.3L555.2 408.7M554.7 408.5L555.2 408.7L554.6 408.7M520.7 381.9L526.3 380.4M524.2 380.6L526.3 380.4L524.8 381.2M531.7 387.9L535.5 387.8M534.2 387.6L535.5 387.8L534.3 388.1M542.7 393.9L545 394M544.3 393.8L545 394L544.2 394.1M553.6 399.8L555.3 400M554.8 399.9L555.3 400L554.7 400.1M520.7 373.4L526 371.4M524 371.8L526 371.4L524.5 372.4M531.7 379.4L535.4 379M534.1 378.9L535.4 379L534.2 379.3M542.7 385.3L545 385.3M544.3 385.2L545 385.3L544.2 385.5M553.6 391.3L555.2 391.4M554.7 391.3L555.2 391.4L554.7 391.5M520.7 364.9L524.8 362.7M523.2 363.2L524.8 362.7L523.7 363.7M531.7 370.9L534.9 370.1M533.8 370.1L534.9 370.1L533.9 370.5M542.7 376.8L544.8 376.6M544.1 376.5L544.8 376.6L544.1 376.8M553.6 382.8L555.2 382.7M554.7 382.7L555.2 382.7L554.6 382.8M520.7 356.4L523.5 354.4M522.3 354.9L523.5 354.4L522.8 355.3M531.7 362.3L534.2 361.4M533.3 361.5L534.2 361.4L533.4 361.9M542.7 368.3L544.5 367.9M543.9 367.9L544.5 367.9L543.9 368.1M553.6 374.3L555 374.1M554.6 374.1L555 374.1L554.5 374.2M520.7 347.8L522.4 346.3M521.7 346.7L522.4 346.3L522 347M531.7 353.8L533.4 352.9M532.8 353.1L533.4 352.9L532.9 353.3M542.7 359.8L544.1 359.3M543.6 359.3L544.1 359.3L543.6 359.5M520.7 339.3L521.8 338.2M521.3 338.5L521.8 338.2L521.5 338.6M531.7 345.3L532.9 344.5M532.4 344.7L532.9 344.5L532.5 344.8M531.7 418.6L533 418.7M532.5 418.6L533 418.7L532.7 418.8M542.7 424.5L543.9 424.9M543.5 424.7L543.9 424.9L543.6 424.8M531.7 410L533.6 409.9M532.8 409.9L533.6 409.9L533.1 410.1M542.7 416L544.4 416.2M543.8 416L544.4 416.2L543.9 416.3M553.6 422L555 422.3M554.5 422.1L555 422.3L554.5 422.3M531.7 401.5L534 401.1M533 401.1L534 401.1L533.4 401.4M542.7 407.5L544.7 407.6M544 407.4L544.7 407.6L544.1 407.7M553.6 413.5L555.2 413.7M554.7 413.5L555.2 413.7L554.7 413.7M531.7 393L534.2 392.4M533.2 392.4L534.2 392.4L533.5 392.7M542.7 399L545 398.9M544.1 398.8L545 398.9L544.3 399M553.6 404.9L555.4 405.1M554.8 404.9L555.4 405.1L554.8 405.1M564.6 410.9L565.9 411.1M565.5 411L565.9 411.1L565.5 411.1M531.7 384.5L534.3 383.7M533.2 383.8L534.3 383.7L533.6 384.1M542.7 390.4L545.1 390.2M544.2 390.1L545.1 390.2L544.3 390.4M553.6 396.4L555.5 396.4M554.9 396.3L555.5 396.4L554.9 396.5M564.6 402.4L566 402.5M565.5 402.4L566 402.5L565.5 402.5M531.7 376L534.3 374.9M533.2 375.1L534.3 374.9L533.6 375.4M542.7 381.9L545.1 381.5M544.2 381.5L545.1 381.5L544.4 381.8M553.6 387.9L555.5 387.8M554.9 387.7L555.5 387.8L554.9 387.9M564.6 393.9L566 393.9M565.5 393.8L566 393.9L565.5 394M531.7 367.4L534.1 366.3M533.1 366.5L534.1 366.3L533.5 366.8M542.7 373.4L545 372.8M544.1 372.9L545 372.8L544.3 373.1M553.6 379.4L555.4 379.1M554.8 379.1L555.4 379.1L554.9 379.3M564.6 385.3L566 385.3M565.5 385.2L566 385.3L565.5 385.4M531.7 358.9L533.8 357.7M532.9 358L533.8 357.7L533.2 358.2M542.7 364.9L544.7 364.2M543.9 364.3L544.7 364.2L544.1 364.5M553.6 370.9L555.3 370.5M554.7 370.5L555.3 370.5L554.8 370.7M564.6 376.8L565.9 376.7M565.5 376.6L565.9 376.7L565.5 376.8M531.7 350.4L533.3 349.2M532.6 349.5L533.3 349.2L532.9 349.7M542.7 356.4L544.3 355.6M543.7 355.8L544.3 355.6L543.8 356M553.6 362.3L555 361.9M554.5 362L555 361.9L554.6 362.1M531.7 341.9L532.9 340.9M532.4 341.1L532.9 340.9L532.6 341.3M542.7 347.8L543.9 347.1M543.4 347.3L543.9 347.1L543.6 347.4M553.6 353.8L554.8 353.3M554.4 353.4L554.8 353.3L554.4 353.6" fill="none" stroke="#0072BD" stroke-width="0.8" stroke-linejoin="round"/>
<path d="M343.8 354.2L343.8 448.4L465.8 514.7L587.8 448.4" fill="none" stroke="#262626" stroke-width="0.9" stroke-linejoin="round"/>
<path d="M343.8 448.4l-3.7 2M465.8 514.7l3.7 2M374.3 465l-3.7 2M496.3 498.1l3.7 2M404.8 481.5l-3.7 2M526.8 481.5l3.7 2M435.3 498.1l-3.7 2M557.3 465l3.7 2M465.8 514.7l-3.7 2M587.8 448.4l3.7 2M343.8 354.2l-3 -1.6M343.8 373l-3 -1.6M343.8 391.9l-3 -1.6M343.8 410.7l-3 -1.6M343.8 429.6l-3 -1.6M343.8 448.4l-3 -1.6" fill="none" stroke="#262626" stroke-width="0.8"/>
<g font-family="Liberation Sans, sans-serif" font-size="9.6" fill="#333">
<text transform="translate(338.4,356.1) scale(0.99,1)" text-anchor="end">0.2</text>
<text transform="translate(338.4,374.9) scale(0.99,1)" text-anchor="end">0</text>
<text transform="translate(338.4,393.8) scale(0.99,1)" text-anchor="end">-0.2</text>
<text transform="translate(338.4,412.6) scale(0.99,1)" text-anchor="end">-0.4</text>
<text transform="translate(338.4,431.5) scale(0.99,1)" text-anchor="end">-0.6</text>
<text transform="translate(338.4,450.3) scale(0.99,1)" text-anchor="end">-0.8</text>
<text transform="translate(338.6,461.3) scale(0.99,1)" text-anchor="end">-0.5</text>
<text transform="translate(369.1,477.9) scale(0.99,1)" text-anchor="end">0</text>
<text transform="translate(399.6,494.4) scale(0.99,1)" text-anchor="end">0.5</text>
<text transform="translate(430.1,511) scale(0.99,1)" text-anchor="end">0.25</text>
<text transform="translate(460.6,527.6) scale(0.99,1)" text-anchor="end">-0.5</text>
<text transform="translate(471.2,527.6) scale(0.99,1)">-0.5</text>
<text transform="translate(501.7,511) scale(0.99,1)">-0.25</text>
<text transform="translate(532.2,494.4) scale(0.99,1)">0</text>
<text transform="translate(562.7,477.9) scale(0.99,1)">0.25</text>
<text transform="translate(593.2,461.3) scale(0.99,1)">0.5</text>
</g>
<g font-family="Liberation Serif, serif" font-size="11.8" fill="#555">
<text x="385.5" y="523.4" text-anchor="middle"><tspan font-style="italic">z</tspan>(mm)</text>
<text x="549.4" y="523.4" text-anchor="middle"><tspan font-style="italic">x</tspan>(mm)</text>
<text transform="translate(315.3,400.9) rotate(-90)" text-anchor="middle"><tspan font-style="italic">y</tspan>(mm)</text>
</g>
</g>
<path d="M147 381L160.5 368.8L162.9 375.3L167.8 380.4Z" fill="#000"/>
<path d="M162.5 375.3L172.5 369.8" stroke="#000" stroke-width="1.2" fill="none"/>
<text x="163.7" y="364.3" font-family="Liberation Serif, serif" font-weight="bold" font-style="italic" font-size="14" fill="#000" stroke="#000" stroke-width="0.4">I</text>
<text x="466.2" y="360.6" font-family="Liberation Serif, serif" font-weight="bold" font-style="italic" font-size="14" fill="#000" stroke="#000" stroke-width="0.3">q</text>
<path d="M426.6 464.2h4.4M428.8 462v4.4M426.6 451.7h4.4M428.8 449.5v4.4M426.6 439.2h4.4M428.8 437v4.4M426.6 426.9h4.4M428.8 424.7v4.4M427.2 414.8h4.4M429.4 412.6v4.4M431.6 404.5h4.4M433.8 402.3v4.4M438.2 395.2h4.4M440.4 393v4.4M445.9 386.2h4.4M448.1 384v4.4M455.2 378.7h4.4M457.4 376.5v4.4M464.6 372.6h4.4M466.8 370.4v4.4M476 368.6h4.4M478.2 366.4v4.4M485.9 367.3h4.4M488.1 365.1v4.4M493.2 369.9h4.4M495.4 367.7v4.4M498.8 378.1h4.4M501 375.9v4.4M499.7 389.7h4.4M501.9 387.5v4.4M499.7 401.6h4.4M501.9 399.4v4.4M499.7 413.2h4.4M501.9 411v4.4M499.7 424.9h4.4M501.9 422.7v4.4" stroke="#000" stroke-width="1.25" fill="none"/>
<g font-family="Liberation Serif, serif" font-weight="bold" fill="#000" stroke="#000" stroke-width="0.25">
<text x="255.3" y="29.8" font-size="19.5">(a)</text>
<text x="550.6" y="30.3" font-size="19.5">(b)</text>
<text x="255.8" y="315.2" font-size="19.5">(c)</text>
<text x="550.9" y="315.2" font-size="19.5">(d)</text>
<text x="151.2" y="84.3" font-size="10.5">φ</text>
<text x="167" y="122.8" font-size="10.5">R</text>
<text x="214.8" y="182.3" font-size="10.5">L</text>
<text x="483.4" y="101.8" font-size="11.7" stroke="#000" stroke-width="0.3">0.3 mm</text>
<text x="549.8" y="177.8" font-size="11.7" stroke="#000" stroke-width="0.3">0.5 mm</text>
</g>
</g>
</svg>
</body></html>
